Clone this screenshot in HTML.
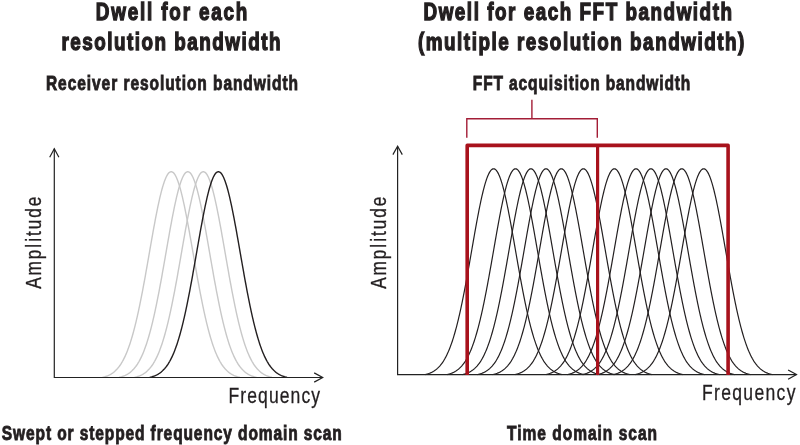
<!DOCTYPE html>
<html><head><meta charset="utf-8"><style>
html,body{margin:0;padding:0;background:#fff;width:800px;height:445px;overflow:hidden}
svg{display:block;will-change:transform}
text{font-family:"Liberation Sans",sans-serif}
</style></head><body>
<svg width="800" height="445" viewBox="0 0 800 445">
<rect width="800" height="445" fill="#fff"/>
<path d="M102.60,377.30 L103.10,377.19 L103.60,377.07 L104.10,376.94 L104.59,376.80 L105.09,376.66 L105.59,376.50 L106.09,376.34 L106.59,376.16 L107.09,375.98 L107.59,375.78 L108.09,375.58 L108.59,375.36 L109.08,375.12 L109.58,374.88 L110.08,374.62 L110.58,374.34 L111.08,374.05 L111.58,373.74 L112.08,373.42 L112.58,373.07 L113.08,372.71 L113.57,372.33 L114.07,371.94 L114.57,371.51 L115.07,371.07 L115.57,370.61 L116.07,370.12 L116.57,369.61 L117.07,369.07 L117.57,368.51 L118.06,367.92 L118.56,367.30 L119.06,366.66 L119.56,365.98 L120.06,365.28 L120.56,364.54 L121.06,363.77 L121.56,362.97 L122.06,362.13 L122.56,361.26 L123.05,360.35 L123.55,359.41 L124.05,358.43 L124.55,357.40 L125.05,356.35 L125.55,355.25 L126.05,354.10 L126.55,352.92 L127.05,351.70 L127.54,350.43 L128.04,349.12 L128.54,347.76 L129.04,346.36 L129.54,344.91 L130.04,343.42 L130.54,341.88 L131.04,340.29 L131.54,338.66 L132.03,336.98 L132.53,335.25 L133.03,333.47 L133.53,331.65 L134.03,329.77 L134.53,327.85 L135.03,325.88 L135.53,323.87 L136.03,321.80 L136.52,319.69 L137.02,317.54 L137.52,315.34 L138.02,313.09 L138.52,310.80 L139.02,308.46 L139.52,306.09 L140.02,303.67 L140.52,301.21 L141.02,298.71 L141.51,296.18 L142.01,293.61 L142.51,291.01 L143.01,288.37 L143.51,285.70 L144.01,283.00 L144.51,280.28 L145.01,277.53 L145.51,274.76 L146.00,271.97 L146.50,269.16 L147.00,266.33 L147.50,263.50 L148.00,260.65 L148.50,257.79 L149.00,254.93 L149.50,252.07 L150.00,249.21 L150.49,246.35 L150.99,243.50 L151.49,240.67 L151.99,237.84 L152.49,235.03 L152.99,232.24 L153.49,229.48 L153.99,226.74 L154.49,224.03 L154.99,221.36 L155.48,218.72 L155.98,216.13 L156.48,213.57 L156.98,211.07 L157.48,208.61 L157.98,206.21 L158.48,203.86 L158.98,201.58 L159.48,199.36 L159.97,197.20 L160.47,195.11 L160.97,193.10 L161.47,191.16 L161.97,189.30 L162.47,187.52 L162.97,185.83 L163.47,184.22 L163.97,182.70 L164.46,181.27 L164.96,179.93 L165.46,178.69 L165.96,177.54 L166.46,176.49 L166.96,175.55 L167.46,174.70 L167.96,173.96 L168.46,173.32 L168.95,172.79 L169.45,172.36 L169.95,172.04 L170.45,171.82 L170.95,171.71 L171.45,171.71 L171.95,171.82 L172.45,172.04 L172.95,172.36 L173.45,172.79 L173.94,173.32 L174.44,173.96 L174.94,174.70 L175.44,175.55 L175.94,176.49 L176.44,177.54 L176.94,178.69 L177.44,179.93 L177.94,181.27 L178.43,182.70 L178.93,184.22 L179.43,185.83 L179.93,187.52 L180.43,189.30 L180.93,191.16 L181.43,193.10 L181.93,195.11 L182.43,197.20 L182.92,199.36 L183.42,201.58 L183.92,203.86 L184.42,206.21 L184.92,208.61 L185.42,211.07 L185.92,213.57 L186.42,216.13 L186.92,218.72 L187.41,221.36 L187.91,224.03 L188.41,226.74 L188.91,229.48 L189.41,232.24 L189.91,235.03 L190.41,237.84 L190.91,240.67 L191.41,243.50 L191.91,246.35 L192.40,249.21 L192.90,252.07 L193.40,254.93 L193.90,257.79 L194.40,260.65 L194.90,263.50 L195.40,266.33 L195.90,269.16 L196.40,271.97 L196.89,274.76 L197.39,277.53 L197.89,280.28 L198.39,283.00 L198.89,285.70 L199.39,288.37 L199.89,291.01 L200.39,293.61 L200.89,296.18 L201.38,298.71 L201.88,301.21 L202.38,303.67 L202.88,306.09 L203.38,308.46 L203.88,310.80 L204.38,313.09 L204.88,315.34 L205.38,317.54 L205.88,319.69 L206.37,321.80 L206.87,323.87 L207.37,325.88 L207.87,327.85 L208.37,329.77 L208.87,331.65 L209.37,333.47 L209.87,335.25 L210.37,336.98 L210.86,338.66 L211.36,340.29 L211.86,341.88 L212.36,343.42 L212.86,344.91 L213.36,346.36 L213.86,347.76 L214.36,349.12 L214.86,350.43 L215.35,351.70 L215.85,352.92 L216.35,354.10 L216.85,355.25 L217.35,356.35 L217.85,357.40 L218.35,358.43 L218.85,359.41 L219.35,360.35 L219.84,361.26 L220.34,362.13 L220.84,362.97 L221.34,363.77 L221.84,364.54 L222.34,365.28 L222.84,365.98 L223.34,366.66 L223.84,367.30 L224.34,367.92 L224.83,368.51 L225.33,369.07 L225.83,369.61 L226.33,370.12 L226.83,370.61 L227.33,371.07 L227.83,371.51 L228.33,371.94 L228.83,372.33 L229.32,372.71 L229.82,373.07 L230.32,373.42 L230.82,373.74 L231.32,374.05 L231.82,374.34 L232.32,374.62 L232.82,374.88 L233.32,375.12 L233.81,375.36 L234.31,375.58 L234.81,375.78 L235.31,375.98 L235.81,376.16 L236.31,376.34 L236.81,376.50 L237.31,376.66 L237.81,376.80 L238.30,376.94 L238.80,377.07 L239.30,377.19 L239.80,377.30" fill="none" stroke="#c8c8c8" stroke-width="1.4"/>
<path d="M119.20,377.30 L119.70,377.19 L120.20,377.07 L120.70,376.94 L121.19,376.80 L121.69,376.66 L122.19,376.50 L122.69,376.34 L123.19,376.16 L123.69,375.98 L124.19,375.78 L124.69,375.58 L125.19,375.36 L125.68,375.12 L126.18,374.88 L126.68,374.62 L127.18,374.34 L127.68,374.05 L128.18,373.74 L128.68,373.42 L129.18,373.07 L129.68,372.71 L130.17,372.33 L130.67,371.94 L131.17,371.51 L131.67,371.07 L132.17,370.61 L132.67,370.12 L133.17,369.61 L133.67,369.07 L134.17,368.51 L134.66,367.92 L135.16,367.30 L135.66,366.66 L136.16,365.98 L136.66,365.28 L137.16,364.54 L137.66,363.77 L138.16,362.97 L138.66,362.13 L139.16,361.26 L139.65,360.35 L140.15,359.41 L140.65,358.43 L141.15,357.40 L141.65,356.35 L142.15,355.25 L142.65,354.10 L143.15,352.92 L143.65,351.70 L144.14,350.43 L144.64,349.12 L145.14,347.76 L145.64,346.36 L146.14,344.91 L146.64,343.42 L147.14,341.88 L147.64,340.29 L148.14,338.66 L148.63,336.98 L149.13,335.25 L149.63,333.47 L150.13,331.65 L150.63,329.77 L151.13,327.85 L151.63,325.88 L152.13,323.87 L152.63,321.80 L153.12,319.69 L153.62,317.54 L154.12,315.34 L154.62,313.09 L155.12,310.80 L155.62,308.46 L156.12,306.09 L156.62,303.67 L157.12,301.21 L157.62,298.71 L158.11,296.18 L158.61,293.61 L159.11,291.01 L159.61,288.37 L160.11,285.70 L160.61,283.00 L161.11,280.28 L161.61,277.53 L162.11,274.76 L162.60,271.97 L163.10,269.16 L163.60,266.33 L164.10,263.50 L164.60,260.65 L165.10,257.79 L165.60,254.93 L166.10,252.07 L166.60,249.21 L167.09,246.35 L167.59,243.50 L168.09,240.67 L168.59,237.84 L169.09,235.03 L169.59,232.24 L170.09,229.48 L170.59,226.74 L171.09,224.03 L171.59,221.36 L172.08,218.72 L172.58,216.13 L173.08,213.57 L173.58,211.07 L174.08,208.61 L174.58,206.21 L175.08,203.86 L175.58,201.58 L176.08,199.36 L176.57,197.20 L177.07,195.11 L177.57,193.10 L178.07,191.16 L178.57,189.30 L179.07,187.52 L179.57,185.83 L180.07,184.22 L180.57,182.70 L181.06,181.27 L181.56,179.93 L182.06,178.69 L182.56,177.54 L183.06,176.49 L183.56,175.55 L184.06,174.70 L184.56,173.96 L185.06,173.32 L185.55,172.79 L186.05,172.36 L186.55,172.04 L187.05,171.82 L187.55,171.71 L188.05,171.71 L188.55,171.82 L189.05,172.04 L189.55,172.36 L190.05,172.79 L190.54,173.32 L191.04,173.96 L191.54,174.70 L192.04,175.55 L192.54,176.49 L193.04,177.54 L193.54,178.69 L194.04,179.93 L194.54,181.27 L195.03,182.70 L195.53,184.22 L196.03,185.83 L196.53,187.52 L197.03,189.30 L197.53,191.16 L198.03,193.10 L198.53,195.11 L199.03,197.20 L199.52,199.36 L200.02,201.58 L200.52,203.86 L201.02,206.21 L201.52,208.61 L202.02,211.07 L202.52,213.57 L203.02,216.13 L203.52,218.72 L204.01,221.36 L204.51,224.03 L205.01,226.74 L205.51,229.48 L206.01,232.24 L206.51,235.03 L207.01,237.84 L207.51,240.67 L208.01,243.50 L208.51,246.35 L209.00,249.21 L209.50,252.07 L210.00,254.93 L210.50,257.79 L211.00,260.65 L211.50,263.50 L212.00,266.33 L212.50,269.16 L213.00,271.97 L213.49,274.76 L213.99,277.53 L214.49,280.28 L214.99,283.00 L215.49,285.70 L215.99,288.37 L216.49,291.01 L216.99,293.61 L217.49,296.18 L217.98,298.71 L218.48,301.21 L218.98,303.67 L219.48,306.09 L219.98,308.46 L220.48,310.80 L220.98,313.09 L221.48,315.34 L221.98,317.54 L222.48,319.69 L222.97,321.80 L223.47,323.87 L223.97,325.88 L224.47,327.85 L224.97,329.77 L225.47,331.65 L225.97,333.47 L226.47,335.25 L226.97,336.98 L227.46,338.66 L227.96,340.29 L228.46,341.88 L228.96,343.42 L229.46,344.91 L229.96,346.36 L230.46,347.76 L230.96,349.12 L231.46,350.43 L231.95,351.70 L232.45,352.92 L232.95,354.10 L233.45,355.25 L233.95,356.35 L234.45,357.40 L234.95,358.43 L235.45,359.41 L235.95,360.35 L236.44,361.26 L236.94,362.13 L237.44,362.97 L237.94,363.77 L238.44,364.54 L238.94,365.28 L239.44,365.98 L239.94,366.66 L240.44,367.30 L240.94,367.92 L241.43,368.51 L241.93,369.07 L242.43,369.61 L242.93,370.12 L243.43,370.61 L243.93,371.07 L244.43,371.51 L244.93,371.94 L245.43,372.33 L245.92,372.71 L246.42,373.07 L246.92,373.42 L247.42,373.74 L247.92,374.05 L248.42,374.34 L248.92,374.62 L249.42,374.88 L249.92,375.12 L250.41,375.36 L250.91,375.58 L251.41,375.78 L251.91,375.98 L252.41,376.16 L252.91,376.34 L253.41,376.50 L253.91,376.66 L254.41,376.80 L254.90,376.94 L255.40,377.07 L255.90,377.19 L256.40,377.30" fill="none" stroke="#c8c8c8" stroke-width="1.4"/>
<path d="M134.70,377.30 L135.20,377.19 L135.70,377.07 L136.20,376.94 L136.69,376.80 L137.19,376.66 L137.69,376.50 L138.19,376.34 L138.69,376.16 L139.19,375.98 L139.69,375.78 L140.19,375.58 L140.69,375.36 L141.18,375.12 L141.68,374.88 L142.18,374.62 L142.68,374.34 L143.18,374.05 L143.68,373.74 L144.18,373.42 L144.68,373.07 L145.18,372.71 L145.67,372.33 L146.17,371.94 L146.67,371.51 L147.17,371.07 L147.67,370.61 L148.17,370.12 L148.67,369.61 L149.17,369.07 L149.67,368.51 L150.16,367.92 L150.66,367.30 L151.16,366.66 L151.66,365.98 L152.16,365.28 L152.66,364.54 L153.16,363.77 L153.66,362.97 L154.16,362.13 L154.66,361.26 L155.15,360.35 L155.65,359.41 L156.15,358.43 L156.65,357.40 L157.15,356.35 L157.65,355.25 L158.15,354.10 L158.65,352.92 L159.15,351.70 L159.64,350.43 L160.14,349.12 L160.64,347.76 L161.14,346.36 L161.64,344.91 L162.14,343.42 L162.64,341.88 L163.14,340.29 L163.64,338.66 L164.13,336.98 L164.63,335.25 L165.13,333.47 L165.63,331.65 L166.13,329.77 L166.63,327.85 L167.13,325.88 L167.63,323.87 L168.13,321.80 L168.62,319.69 L169.12,317.54 L169.62,315.34 L170.12,313.09 L170.62,310.80 L171.12,308.46 L171.62,306.09 L172.12,303.67 L172.62,301.21 L173.12,298.71 L173.61,296.18 L174.11,293.61 L174.61,291.01 L175.11,288.37 L175.61,285.70 L176.11,283.00 L176.61,280.28 L177.11,277.53 L177.61,274.76 L178.10,271.97 L178.60,269.16 L179.10,266.33 L179.60,263.50 L180.10,260.65 L180.60,257.79 L181.10,254.93 L181.60,252.07 L182.10,249.21 L182.59,246.35 L183.09,243.50 L183.59,240.67 L184.09,237.84 L184.59,235.03 L185.09,232.24 L185.59,229.48 L186.09,226.74 L186.59,224.03 L187.09,221.36 L187.58,218.72 L188.08,216.13 L188.58,213.57 L189.08,211.07 L189.58,208.61 L190.08,206.21 L190.58,203.86 L191.08,201.58 L191.58,199.36 L192.07,197.20 L192.57,195.11 L193.07,193.10 L193.57,191.16 L194.07,189.30 L194.57,187.52 L195.07,185.83 L195.57,184.22 L196.07,182.70 L196.56,181.27 L197.06,179.93 L197.56,178.69 L198.06,177.54 L198.56,176.49 L199.06,175.55 L199.56,174.70 L200.06,173.96 L200.56,173.32 L201.05,172.79 L201.55,172.36 L202.05,172.04 L202.55,171.82 L203.05,171.71 L203.55,171.71 L204.05,171.82 L204.55,172.04 L205.05,172.36 L205.55,172.79 L206.04,173.32 L206.54,173.96 L207.04,174.70 L207.54,175.55 L208.04,176.49 L208.54,177.54 L209.04,178.69 L209.54,179.93 L210.04,181.27 L210.53,182.70 L211.03,184.22 L211.53,185.83 L212.03,187.52 L212.53,189.30 L213.03,191.16 L213.53,193.10 L214.03,195.11 L214.53,197.20 L215.02,199.36 L215.52,201.58 L216.02,203.86 L216.52,206.21 L217.02,208.61 L217.52,211.07 L218.02,213.57 L218.52,216.13 L219.02,218.72 L219.51,221.36 L220.01,224.03 L220.51,226.74 L221.01,229.48 L221.51,232.24 L222.01,235.03 L222.51,237.84 L223.01,240.67 L223.51,243.50 L224.01,246.35 L224.50,249.21 L225.00,252.07 L225.50,254.93 L226.00,257.79 L226.50,260.65 L227.00,263.50 L227.50,266.33 L228.00,269.16 L228.50,271.97 L228.99,274.76 L229.49,277.53 L229.99,280.28 L230.49,283.00 L230.99,285.70 L231.49,288.37 L231.99,291.01 L232.49,293.61 L232.99,296.18 L233.48,298.71 L233.98,301.21 L234.48,303.67 L234.98,306.09 L235.48,308.46 L235.98,310.80 L236.48,313.09 L236.98,315.34 L237.48,317.54 L237.98,319.69 L238.47,321.80 L238.97,323.87 L239.47,325.88 L239.97,327.85 L240.47,329.77 L240.97,331.65 L241.47,333.47 L241.97,335.25 L242.47,336.98 L242.96,338.66 L243.46,340.29 L243.96,341.88 L244.46,343.42 L244.96,344.91 L245.46,346.36 L245.96,347.76 L246.46,349.12 L246.96,350.43 L247.45,351.70 L247.95,352.92 L248.45,354.10 L248.95,355.25 L249.45,356.35 L249.95,357.40 L250.45,358.43 L250.95,359.41 L251.45,360.35 L251.94,361.26 L252.44,362.13 L252.94,362.97 L253.44,363.77 L253.94,364.54 L254.44,365.28 L254.94,365.98 L255.44,366.66 L255.94,367.30 L256.44,367.92 L256.93,368.51 L257.43,369.07 L257.93,369.61 L258.43,370.12 L258.93,370.61 L259.43,371.07 L259.93,371.51 L260.43,371.94 L260.93,372.33 L261.42,372.71 L261.92,373.07 L262.42,373.42 L262.92,373.74 L263.42,374.05 L263.92,374.34 L264.42,374.62 L264.92,374.88 L265.42,375.12 L265.91,375.36 L266.41,375.58 L266.91,375.78 L267.41,375.98 L267.91,376.16 L268.41,376.34 L268.91,376.50 L269.41,376.66 L269.91,376.80 L270.40,376.94 L270.90,377.07 L271.40,377.19 L271.90,377.30" fill="none" stroke="#c8c8c8" stroke-width="1.4"/>
<path d="M149.80,377.30 L150.30,377.19 L150.80,377.07 L151.30,376.94 L151.79,376.80 L152.29,376.66 L152.79,376.50 L153.29,376.34 L153.79,376.16 L154.29,375.98 L154.79,375.78 L155.29,375.58 L155.79,375.36 L156.28,375.12 L156.78,374.88 L157.28,374.62 L157.78,374.34 L158.28,374.05 L158.78,373.74 L159.28,373.42 L159.78,373.07 L160.28,372.71 L160.77,372.33 L161.27,371.94 L161.77,371.51 L162.27,371.07 L162.77,370.61 L163.27,370.12 L163.77,369.61 L164.27,369.07 L164.77,368.51 L165.26,367.92 L165.76,367.30 L166.26,366.66 L166.76,365.98 L167.26,365.28 L167.76,364.54 L168.26,363.77 L168.76,362.97 L169.26,362.13 L169.76,361.26 L170.25,360.35 L170.75,359.41 L171.25,358.43 L171.75,357.40 L172.25,356.35 L172.75,355.25 L173.25,354.10 L173.75,352.92 L174.25,351.70 L174.74,350.43 L175.24,349.12 L175.74,347.76 L176.24,346.36 L176.74,344.91 L177.24,343.42 L177.74,341.88 L178.24,340.29 L178.74,338.66 L179.23,336.98 L179.73,335.25 L180.23,333.47 L180.73,331.65 L181.23,329.77 L181.73,327.85 L182.23,325.88 L182.73,323.87 L183.23,321.80 L183.72,319.69 L184.22,317.54 L184.72,315.34 L185.22,313.09 L185.72,310.80 L186.22,308.46 L186.72,306.09 L187.22,303.67 L187.72,301.21 L188.22,298.71 L188.71,296.18 L189.21,293.61 L189.71,291.01 L190.21,288.37 L190.71,285.70 L191.21,283.00 L191.71,280.28 L192.21,277.53 L192.71,274.76 L193.20,271.97 L193.70,269.16 L194.20,266.33 L194.70,263.50 L195.20,260.65 L195.70,257.79 L196.20,254.93 L196.70,252.07 L197.20,249.21 L197.69,246.35 L198.19,243.50 L198.69,240.67 L199.19,237.84 L199.69,235.03 L200.19,232.24 L200.69,229.48 L201.19,226.74 L201.69,224.03 L202.19,221.36 L202.68,218.72 L203.18,216.13 L203.68,213.57 L204.18,211.07 L204.68,208.61 L205.18,206.21 L205.68,203.86 L206.18,201.58 L206.68,199.36 L207.17,197.20 L207.67,195.11 L208.17,193.10 L208.67,191.16 L209.17,189.30 L209.67,187.52 L210.17,185.83 L210.67,184.22 L211.17,182.70 L211.66,181.27 L212.16,179.93 L212.66,178.69 L213.16,177.54 L213.66,176.49 L214.16,175.55 L214.66,174.70 L215.16,173.96 L215.66,173.32 L216.15,172.79 L216.65,172.36 L217.15,172.04 L217.65,171.82 L218.15,171.71 L218.65,171.71 L219.15,171.82 L219.65,172.04 L220.15,172.36 L220.65,172.79 L221.14,173.32 L221.64,173.96 L222.14,174.70 L222.64,175.55 L223.14,176.49 L223.64,177.54 L224.14,178.69 L224.64,179.93 L225.14,181.27 L225.63,182.70 L226.13,184.22 L226.63,185.83 L227.13,187.52 L227.63,189.30 L228.13,191.16 L228.63,193.10 L229.13,195.11 L229.63,197.20 L230.12,199.36 L230.62,201.58 L231.12,203.86 L231.62,206.21 L232.12,208.61 L232.62,211.07 L233.12,213.57 L233.62,216.13 L234.12,218.72 L234.61,221.36 L235.11,224.03 L235.61,226.74 L236.11,229.48 L236.61,232.24 L237.11,235.03 L237.61,237.84 L238.11,240.67 L238.61,243.50 L239.11,246.35 L239.60,249.21 L240.10,252.07 L240.60,254.93 L241.10,257.79 L241.60,260.65 L242.10,263.50 L242.60,266.33 L243.10,269.16 L243.60,271.97 L244.09,274.76 L244.59,277.53 L245.09,280.28 L245.59,283.00 L246.09,285.70 L246.59,288.37 L247.09,291.01 L247.59,293.61 L248.09,296.18 L248.58,298.71 L249.08,301.21 L249.58,303.67 L250.08,306.09 L250.58,308.46 L251.08,310.80 L251.58,313.09 L252.08,315.34 L252.58,317.54 L253.08,319.69 L253.57,321.80 L254.07,323.87 L254.57,325.88 L255.07,327.85 L255.57,329.77 L256.07,331.65 L256.57,333.47 L257.07,335.25 L257.57,336.98 L258.06,338.66 L258.56,340.29 L259.06,341.88 L259.56,343.42 L260.06,344.91 L260.56,346.36 L261.06,347.76 L261.56,349.12 L262.06,350.43 L262.55,351.70 L263.05,352.92 L263.55,354.10 L264.05,355.25 L264.55,356.35 L265.05,357.40 L265.55,358.43 L266.05,359.41 L266.55,360.35 L267.04,361.26 L267.54,362.13 L268.04,362.97 L268.54,363.77 L269.04,364.54 L269.54,365.28 L270.04,365.98 L270.54,366.66 L271.04,367.30 L271.54,367.92 L272.03,368.51 L272.53,369.07 L273.03,369.61 L273.53,370.12 L274.03,370.61 L274.53,371.07 L275.03,371.51 L275.53,371.94 L276.03,372.33 L276.52,372.71 L277.02,373.07 L277.52,373.42 L278.02,373.74 L278.52,374.05 L279.02,374.34 L279.52,374.62 L280.02,374.88 L280.52,375.12 L281.01,375.36 L281.51,375.58 L282.01,375.78 L282.51,375.98 L283.01,376.16 L283.51,376.34 L284.01,376.50 L284.51,376.66 L285.01,376.80 L285.50,376.94 L286.00,377.07 L286.50,377.19 L287.00,377.30" fill="none" stroke="#231f20" stroke-width="1.4"/>
<path d="M425.00,374.60 L425.50,374.49 L426.00,374.37 L426.50,374.24 L426.99,374.10 L427.49,373.96 L427.99,373.80 L428.49,373.64 L428.99,373.46 L429.49,373.28 L429.99,373.08 L430.49,372.87 L430.99,372.65 L431.48,372.42 L431.98,372.17 L432.48,371.91 L432.98,371.64 L433.48,371.35 L433.98,371.04 L434.48,370.71 L434.98,370.37 L435.48,370.01 L435.97,369.63 L436.47,369.23 L436.97,368.81 L437.47,368.37 L437.97,367.90 L438.47,367.41 L438.97,366.90 L439.47,366.36 L439.97,365.80 L440.46,365.21 L440.96,364.59 L441.46,363.95 L441.96,363.27 L442.46,362.56 L442.96,361.83 L443.46,361.06 L443.96,360.25 L444.46,359.42 L444.96,358.54 L445.45,357.63 L445.95,356.69 L446.45,355.71 L446.95,354.69 L447.45,353.62 L447.95,352.52 L448.45,351.38 L448.95,350.20 L449.45,348.97 L449.94,347.70 L450.44,346.39 L450.94,345.03 L451.44,343.63 L451.94,342.18 L452.44,340.69 L452.94,339.14 L453.44,337.56 L453.94,335.92 L454.43,334.24 L454.93,332.51 L455.43,330.73 L455.93,328.90 L456.43,327.03 L456.93,325.10 L457.43,323.13 L457.93,321.12 L458.43,319.05 L458.92,316.94 L459.42,314.78 L459.92,312.58 L460.42,310.33 L460.92,308.03 L461.42,305.70 L461.92,303.32 L462.42,300.90 L462.92,298.44 L463.42,295.94 L463.91,293.40 L464.41,290.83 L464.91,288.22 L465.41,285.58 L465.91,282.91 L466.41,280.21 L466.91,277.49 L467.41,274.73 L467.91,271.96 L468.40,269.17 L468.90,266.35 L469.40,263.53 L469.90,260.69 L470.40,257.84 L470.90,254.98 L471.40,252.11 L471.90,249.25 L472.40,246.39 L472.89,243.53 L473.39,240.67 L473.89,237.83 L474.39,235.00 L474.89,232.19 L475.39,229.40 L475.89,226.64 L476.39,223.89 L476.89,221.18 L477.39,218.51 L477.88,215.87 L478.38,213.27 L478.88,210.71 L479.38,208.20 L479.88,205.75 L480.38,203.34 L480.88,200.99 L481.38,198.71 L481.88,196.48 L482.37,194.33 L482.87,192.24 L483.37,190.22 L483.87,188.28 L484.37,186.42 L484.87,184.64 L485.37,182.94 L485.87,181.33 L486.37,179.81 L486.86,178.38 L487.36,177.04 L487.86,175.79 L488.36,174.65 L488.86,173.60 L489.36,172.65 L489.86,171.80 L490.36,171.06 L490.86,170.42 L491.35,169.89 L491.85,169.46 L492.35,169.14 L492.85,168.92 L493.35,168.81 L493.85,168.81 L494.35,168.92 L494.85,169.14 L495.35,169.46 L495.85,169.89 L496.34,170.42 L496.84,171.06 L497.34,171.80 L497.84,172.65 L498.34,173.60 L498.84,174.65 L499.34,175.79 L499.84,177.04 L500.34,178.38 L500.83,179.81 L501.33,181.33 L501.83,182.94 L502.33,184.64 L502.83,186.42 L503.33,188.28 L503.83,190.22 L504.33,192.24 L504.83,194.33 L505.32,196.48 L505.82,198.71 L506.32,200.99 L506.82,203.34 L507.32,205.75 L507.82,208.20 L508.32,210.71 L508.82,213.27 L509.32,215.87 L509.81,218.51 L510.31,221.18 L510.81,223.89 L511.31,226.64 L511.81,229.40 L512.31,232.19 L512.81,235.00 L513.31,237.83 L513.81,240.67 L514.31,243.53 L514.80,246.39 L515.30,249.25 L515.80,252.11 L516.30,254.98 L516.80,257.84 L517.30,260.69 L517.80,263.53 L518.30,266.35 L518.80,269.17 L519.29,271.96 L519.79,274.73 L520.29,277.49 L520.79,280.21 L521.29,282.91 L521.79,285.58 L522.29,288.22 L522.79,290.83 L523.29,293.40 L523.78,295.94 L524.28,298.44 L524.78,300.90 L525.28,303.32 L525.78,305.70 L526.28,308.03 L526.78,310.33 L527.28,312.58 L527.78,314.78 L528.28,316.94 L528.77,319.05 L529.27,321.12 L529.77,323.13 L530.27,325.10 L530.77,327.03 L531.27,328.90 L531.77,330.73 L532.27,332.51 L532.77,334.24 L533.26,335.92 L533.76,337.56 L534.26,339.14 L534.76,340.69 L535.26,342.18 L535.76,343.63 L536.26,345.03 L536.76,346.39 L537.26,347.70 L537.75,348.97 L538.25,350.20 L538.75,351.38 L539.25,352.52 L539.75,353.62 L540.25,354.69 L540.75,355.71 L541.25,356.69 L541.75,357.63 L542.24,358.54 L542.74,359.42 L543.24,360.25 L543.74,361.06 L544.24,361.83 L544.74,362.56 L545.24,363.27 L545.74,363.95 L546.24,364.59 L546.74,365.21 L547.23,365.80 L547.73,366.36 L548.23,366.90 L548.73,367.41 L549.23,367.90 L549.73,368.37 L550.23,368.81 L550.73,369.23 L551.23,369.63 L551.72,370.01 L552.22,370.37 L552.72,370.71 L553.22,371.04 L553.72,371.35 L554.22,371.64 L554.72,371.91 L555.22,372.17 L555.72,372.42 L556.21,372.65 L556.71,372.87 L557.21,373.08 L557.71,373.28 L558.21,373.46 L558.71,373.64 L559.21,373.80 L559.71,373.96 L560.21,374.10 L560.70,374.24 L561.20,374.37 L561.70,374.49 L562.20,374.60" fill="none" stroke="#231f20" stroke-width="1.2"/>
<path d="M446.90,374.60 L447.40,374.49 L447.90,374.37 L448.40,374.24 L448.89,374.10 L449.39,373.96 L449.89,373.80 L450.39,373.64 L450.89,373.46 L451.39,373.28 L451.89,373.08 L452.39,372.87 L452.89,372.65 L453.38,372.42 L453.88,372.17 L454.38,371.91 L454.88,371.64 L455.38,371.35 L455.88,371.04 L456.38,370.71 L456.88,370.37 L457.38,370.01 L457.87,369.63 L458.37,369.23 L458.87,368.81 L459.37,368.37 L459.87,367.90 L460.37,367.41 L460.87,366.90 L461.37,366.36 L461.87,365.80 L462.36,365.21 L462.86,364.59 L463.36,363.95 L463.86,363.27 L464.36,362.56 L464.86,361.83 L465.36,361.06 L465.86,360.25 L466.36,359.42 L466.86,358.54 L467.35,357.63 L467.85,356.69 L468.35,355.71 L468.85,354.69 L469.35,353.62 L469.85,352.52 L470.35,351.38 L470.85,350.20 L471.35,348.97 L471.84,347.70 L472.34,346.39 L472.84,345.03 L473.34,343.63 L473.84,342.18 L474.34,340.69 L474.84,339.14 L475.34,337.56 L475.84,335.92 L476.33,334.24 L476.83,332.51 L477.33,330.73 L477.83,328.90 L478.33,327.03 L478.83,325.10 L479.33,323.13 L479.83,321.12 L480.33,319.05 L480.82,316.94 L481.32,314.78 L481.82,312.58 L482.32,310.33 L482.82,308.03 L483.32,305.70 L483.82,303.32 L484.32,300.90 L484.82,298.44 L485.32,295.94 L485.81,293.40 L486.31,290.83 L486.81,288.22 L487.31,285.58 L487.81,282.91 L488.31,280.21 L488.81,277.49 L489.31,274.73 L489.81,271.96 L490.30,269.17 L490.80,266.35 L491.30,263.53 L491.80,260.69 L492.30,257.84 L492.80,254.98 L493.30,252.11 L493.80,249.25 L494.30,246.39 L494.79,243.53 L495.29,240.67 L495.79,237.83 L496.29,235.00 L496.79,232.19 L497.29,229.40 L497.79,226.64 L498.29,223.89 L498.79,221.18 L499.29,218.51 L499.78,215.87 L500.28,213.27 L500.78,210.71 L501.28,208.20 L501.78,205.75 L502.28,203.34 L502.78,200.99 L503.28,198.71 L503.78,196.48 L504.27,194.33 L504.77,192.24 L505.27,190.22 L505.77,188.28 L506.27,186.42 L506.77,184.64 L507.27,182.94 L507.77,181.33 L508.27,179.81 L508.76,178.38 L509.26,177.04 L509.76,175.79 L510.26,174.65 L510.76,173.60 L511.26,172.65 L511.76,171.80 L512.26,171.06 L512.76,170.42 L513.25,169.89 L513.75,169.46 L514.25,169.14 L514.75,168.92 L515.25,168.81 L515.75,168.81 L516.25,168.92 L516.75,169.14 L517.25,169.46 L517.75,169.89 L518.24,170.42 L518.74,171.06 L519.24,171.80 L519.74,172.65 L520.24,173.60 L520.74,174.65 L521.24,175.79 L521.74,177.04 L522.24,178.38 L522.73,179.81 L523.23,181.33 L523.73,182.94 L524.23,184.64 L524.73,186.42 L525.23,188.28 L525.73,190.22 L526.23,192.24 L526.73,194.33 L527.22,196.48 L527.72,198.71 L528.22,200.99 L528.72,203.34 L529.22,205.75 L529.72,208.20 L530.22,210.71 L530.72,213.27 L531.22,215.87 L531.71,218.51 L532.21,221.18 L532.71,223.89 L533.21,226.64 L533.71,229.40 L534.21,232.19 L534.71,235.00 L535.21,237.83 L535.71,240.67 L536.21,243.53 L536.70,246.39 L537.20,249.25 L537.70,252.11 L538.20,254.98 L538.70,257.84 L539.20,260.69 L539.70,263.53 L540.20,266.35 L540.70,269.17 L541.19,271.96 L541.69,274.73 L542.19,277.49 L542.69,280.21 L543.19,282.91 L543.69,285.58 L544.19,288.22 L544.69,290.83 L545.19,293.40 L545.68,295.94 L546.18,298.44 L546.68,300.90 L547.18,303.32 L547.68,305.70 L548.18,308.03 L548.68,310.33 L549.18,312.58 L549.68,314.78 L550.18,316.94 L550.67,319.05 L551.17,321.12 L551.67,323.13 L552.17,325.10 L552.67,327.03 L553.17,328.90 L553.67,330.73 L554.17,332.51 L554.67,334.24 L555.16,335.92 L555.66,337.56 L556.16,339.14 L556.66,340.69 L557.16,342.18 L557.66,343.63 L558.16,345.03 L558.66,346.39 L559.16,347.70 L559.65,348.97 L560.15,350.20 L560.65,351.38 L561.15,352.52 L561.65,353.62 L562.15,354.69 L562.65,355.71 L563.15,356.69 L563.65,357.63 L564.14,358.54 L564.64,359.42 L565.14,360.25 L565.64,361.06 L566.14,361.83 L566.64,362.56 L567.14,363.27 L567.64,363.95 L568.14,364.59 L568.64,365.21 L569.13,365.80 L569.63,366.36 L570.13,366.90 L570.63,367.41 L571.13,367.90 L571.63,368.37 L572.13,368.81 L572.63,369.23 L573.13,369.63 L573.62,370.01 L574.12,370.37 L574.62,370.71 L575.12,371.04 L575.62,371.35 L576.12,371.64 L576.62,371.91 L577.12,372.17 L577.62,372.42 L578.11,372.65 L578.61,372.87 L579.11,373.08 L579.61,373.28 L580.11,373.46 L580.61,373.64 L581.11,373.80 L581.61,373.96 L582.11,374.10 L582.60,374.24 L583.10,374.37 L583.60,374.49 L584.10,374.60" fill="none" stroke="#231f20" stroke-width="1.2"/>
<path d="M462.30,374.60 L462.80,374.49 L463.30,374.37 L463.80,374.24 L464.29,374.10 L464.79,373.96 L465.29,373.80 L465.79,373.64 L466.29,373.46 L466.79,373.28 L467.29,373.08 L467.79,372.87 L468.29,372.65 L468.78,372.42 L469.28,372.17 L469.78,371.91 L470.28,371.64 L470.78,371.35 L471.28,371.04 L471.78,370.71 L472.28,370.37 L472.78,370.01 L473.27,369.63 L473.77,369.23 L474.27,368.81 L474.77,368.37 L475.27,367.90 L475.77,367.41 L476.27,366.90 L476.77,366.36 L477.27,365.80 L477.76,365.21 L478.26,364.59 L478.76,363.95 L479.26,363.27 L479.76,362.56 L480.26,361.83 L480.76,361.06 L481.26,360.25 L481.76,359.42 L482.26,358.54 L482.75,357.63 L483.25,356.69 L483.75,355.71 L484.25,354.69 L484.75,353.62 L485.25,352.52 L485.75,351.38 L486.25,350.20 L486.75,348.97 L487.24,347.70 L487.74,346.39 L488.24,345.03 L488.74,343.63 L489.24,342.18 L489.74,340.69 L490.24,339.14 L490.74,337.56 L491.24,335.92 L491.73,334.24 L492.23,332.51 L492.73,330.73 L493.23,328.90 L493.73,327.03 L494.23,325.10 L494.73,323.13 L495.23,321.12 L495.73,319.05 L496.22,316.94 L496.72,314.78 L497.22,312.58 L497.72,310.33 L498.22,308.03 L498.72,305.70 L499.22,303.32 L499.72,300.90 L500.22,298.44 L500.72,295.94 L501.21,293.40 L501.71,290.83 L502.21,288.22 L502.71,285.58 L503.21,282.91 L503.71,280.21 L504.21,277.49 L504.71,274.73 L505.21,271.96 L505.70,269.17 L506.20,266.35 L506.70,263.53 L507.20,260.69 L507.70,257.84 L508.20,254.98 L508.70,252.11 L509.20,249.25 L509.70,246.39 L510.19,243.53 L510.69,240.67 L511.19,237.83 L511.69,235.00 L512.19,232.19 L512.69,229.40 L513.19,226.64 L513.69,223.89 L514.19,221.18 L514.69,218.51 L515.18,215.87 L515.68,213.27 L516.18,210.71 L516.68,208.20 L517.18,205.75 L517.68,203.34 L518.18,200.99 L518.68,198.71 L519.18,196.48 L519.67,194.33 L520.17,192.24 L520.67,190.22 L521.17,188.28 L521.67,186.42 L522.17,184.64 L522.67,182.94 L523.17,181.33 L523.67,179.81 L524.16,178.38 L524.66,177.04 L525.16,175.79 L525.66,174.65 L526.16,173.60 L526.66,172.65 L527.16,171.80 L527.66,171.06 L528.16,170.42 L528.65,169.89 L529.15,169.46 L529.65,169.14 L530.15,168.92 L530.65,168.81 L531.15,168.81 L531.65,168.92 L532.15,169.14 L532.65,169.46 L533.15,169.89 L533.64,170.42 L534.14,171.06 L534.64,171.80 L535.14,172.65 L535.64,173.60 L536.14,174.65 L536.64,175.79 L537.14,177.04 L537.64,178.38 L538.13,179.81 L538.63,181.33 L539.13,182.94 L539.63,184.64 L540.13,186.42 L540.63,188.28 L541.13,190.22 L541.63,192.24 L542.13,194.33 L542.62,196.48 L543.12,198.71 L543.62,200.99 L544.12,203.34 L544.62,205.75 L545.12,208.20 L545.62,210.71 L546.12,213.27 L546.62,215.87 L547.11,218.51 L547.61,221.18 L548.11,223.89 L548.61,226.64 L549.11,229.40 L549.61,232.19 L550.11,235.00 L550.61,237.83 L551.11,240.67 L551.61,243.53 L552.10,246.39 L552.60,249.25 L553.10,252.11 L553.60,254.98 L554.10,257.84 L554.60,260.69 L555.10,263.53 L555.60,266.35 L556.10,269.17 L556.59,271.96 L557.09,274.73 L557.59,277.49 L558.09,280.21 L558.59,282.91 L559.09,285.58 L559.59,288.22 L560.09,290.83 L560.59,293.40 L561.08,295.94 L561.58,298.44 L562.08,300.90 L562.58,303.32 L563.08,305.70 L563.58,308.03 L564.08,310.33 L564.58,312.58 L565.08,314.78 L565.58,316.94 L566.07,319.05 L566.57,321.12 L567.07,323.13 L567.57,325.10 L568.07,327.03 L568.57,328.90 L569.07,330.73 L569.57,332.51 L570.07,334.24 L570.56,335.92 L571.06,337.56 L571.56,339.14 L572.06,340.69 L572.56,342.18 L573.06,343.63 L573.56,345.03 L574.06,346.39 L574.56,347.70 L575.05,348.97 L575.55,350.20 L576.05,351.38 L576.55,352.52 L577.05,353.62 L577.55,354.69 L578.05,355.71 L578.55,356.69 L579.05,357.63 L579.54,358.54 L580.04,359.42 L580.54,360.25 L581.04,361.06 L581.54,361.83 L582.04,362.56 L582.54,363.27 L583.04,363.95 L583.54,364.59 L584.04,365.21 L584.53,365.80 L585.03,366.36 L585.53,366.90 L586.03,367.41 L586.53,367.90 L587.03,368.37 L587.53,368.81 L588.03,369.23 L588.53,369.63 L589.02,370.01 L589.52,370.37 L590.02,370.71 L590.52,371.04 L591.02,371.35 L591.52,371.64 L592.02,371.91 L592.52,372.17 L593.02,372.42 L593.51,372.65 L594.01,372.87 L594.51,373.08 L595.01,373.28 L595.51,373.46 L596.01,373.64 L596.51,373.80 L597.01,373.96 L597.51,374.10 L598.00,374.24 L598.50,374.37 L599.00,374.49 L599.50,374.60" fill="none" stroke="#231f20" stroke-width="1.2"/>
<path d="M477.40,374.60 L477.90,374.49 L478.40,374.37 L478.90,374.24 L479.39,374.10 L479.89,373.96 L480.39,373.80 L480.89,373.64 L481.39,373.46 L481.89,373.28 L482.39,373.08 L482.89,372.87 L483.39,372.65 L483.88,372.42 L484.38,372.17 L484.88,371.91 L485.38,371.64 L485.88,371.35 L486.38,371.04 L486.88,370.71 L487.38,370.37 L487.88,370.01 L488.37,369.63 L488.87,369.23 L489.37,368.81 L489.87,368.37 L490.37,367.90 L490.87,367.41 L491.37,366.90 L491.87,366.36 L492.37,365.80 L492.86,365.21 L493.36,364.59 L493.86,363.95 L494.36,363.27 L494.86,362.56 L495.36,361.83 L495.86,361.06 L496.36,360.25 L496.86,359.42 L497.36,358.54 L497.85,357.63 L498.35,356.69 L498.85,355.71 L499.35,354.69 L499.85,353.62 L500.35,352.52 L500.85,351.38 L501.35,350.20 L501.85,348.97 L502.34,347.70 L502.84,346.39 L503.34,345.03 L503.84,343.63 L504.34,342.18 L504.84,340.69 L505.34,339.14 L505.84,337.56 L506.34,335.92 L506.83,334.24 L507.33,332.51 L507.83,330.73 L508.33,328.90 L508.83,327.03 L509.33,325.10 L509.83,323.13 L510.33,321.12 L510.83,319.05 L511.32,316.94 L511.82,314.78 L512.32,312.58 L512.82,310.33 L513.32,308.03 L513.82,305.70 L514.32,303.32 L514.82,300.90 L515.32,298.44 L515.82,295.94 L516.31,293.40 L516.81,290.83 L517.31,288.22 L517.81,285.58 L518.31,282.91 L518.81,280.21 L519.31,277.49 L519.81,274.73 L520.31,271.96 L520.80,269.17 L521.30,266.35 L521.80,263.53 L522.30,260.69 L522.80,257.84 L523.30,254.98 L523.80,252.11 L524.30,249.25 L524.80,246.39 L525.29,243.53 L525.79,240.67 L526.29,237.83 L526.79,235.00 L527.29,232.19 L527.79,229.40 L528.29,226.64 L528.79,223.89 L529.29,221.18 L529.79,218.51 L530.28,215.87 L530.78,213.27 L531.28,210.71 L531.78,208.20 L532.28,205.75 L532.78,203.34 L533.28,200.99 L533.78,198.71 L534.28,196.48 L534.77,194.33 L535.27,192.24 L535.77,190.22 L536.27,188.28 L536.77,186.42 L537.27,184.64 L537.77,182.94 L538.27,181.33 L538.77,179.81 L539.26,178.38 L539.76,177.04 L540.26,175.79 L540.76,174.65 L541.26,173.60 L541.76,172.65 L542.26,171.80 L542.76,171.06 L543.26,170.42 L543.75,169.89 L544.25,169.46 L544.75,169.14 L545.25,168.92 L545.75,168.81 L546.25,168.81 L546.75,168.92 L547.25,169.14 L547.75,169.46 L548.25,169.89 L548.74,170.42 L549.24,171.06 L549.74,171.80 L550.24,172.65 L550.74,173.60 L551.24,174.65 L551.74,175.79 L552.24,177.04 L552.74,178.38 L553.23,179.81 L553.73,181.33 L554.23,182.94 L554.73,184.64 L555.23,186.42 L555.73,188.28 L556.23,190.22 L556.73,192.24 L557.23,194.33 L557.72,196.48 L558.22,198.71 L558.72,200.99 L559.22,203.34 L559.72,205.75 L560.22,208.20 L560.72,210.71 L561.22,213.27 L561.72,215.87 L562.21,218.51 L562.71,221.18 L563.21,223.89 L563.71,226.64 L564.21,229.40 L564.71,232.19 L565.21,235.00 L565.71,237.83 L566.21,240.67 L566.71,243.53 L567.20,246.39 L567.70,249.25 L568.20,252.11 L568.70,254.98 L569.20,257.84 L569.70,260.69 L570.20,263.53 L570.70,266.35 L571.20,269.17 L571.69,271.96 L572.19,274.73 L572.69,277.49 L573.19,280.21 L573.69,282.91 L574.19,285.58 L574.69,288.22 L575.19,290.83 L575.69,293.40 L576.18,295.94 L576.68,298.44 L577.18,300.90 L577.68,303.32 L578.18,305.70 L578.68,308.03 L579.18,310.33 L579.68,312.58 L580.18,314.78 L580.68,316.94 L581.17,319.05 L581.67,321.12 L582.17,323.13 L582.67,325.10 L583.17,327.03 L583.67,328.90 L584.17,330.73 L584.67,332.51 L585.17,334.24 L585.66,335.92 L586.16,337.56 L586.66,339.14 L587.16,340.69 L587.66,342.18 L588.16,343.63 L588.66,345.03 L589.16,346.39 L589.66,347.70 L590.15,348.97 L590.65,350.20 L591.15,351.38 L591.65,352.52 L592.15,353.62 L592.65,354.69 L593.15,355.71 L593.65,356.69 L594.15,357.63 L594.64,358.54 L595.14,359.42 L595.64,360.25 L596.14,361.06 L596.64,361.83 L597.14,362.56 L597.64,363.27 L598.14,363.95 L598.64,364.59 L599.14,365.21 L599.63,365.80 L600.13,366.36 L600.63,366.90 L601.13,367.41 L601.63,367.90 L602.13,368.37 L602.63,368.81 L603.13,369.23 L603.63,369.63 L604.12,370.01 L604.62,370.37 L605.12,370.71 L605.62,371.04 L606.12,371.35 L606.62,371.64 L607.12,371.91 L607.62,372.17 L608.12,372.42 L608.61,372.65 L609.11,372.87 L609.61,373.08 L610.11,373.28 L610.61,373.46 L611.11,373.64 L611.61,373.80 L612.11,373.96 L612.61,374.10 L613.10,374.24 L613.60,374.37 L614.10,374.49 L614.60,374.60" fill="none" stroke="#231f20" stroke-width="1.2"/>
<path d="M492.70,374.60 L493.20,374.49 L493.70,374.37 L494.20,374.24 L494.69,374.10 L495.19,373.96 L495.69,373.80 L496.19,373.64 L496.69,373.46 L497.19,373.28 L497.69,373.08 L498.19,372.87 L498.69,372.65 L499.18,372.42 L499.68,372.17 L500.18,371.91 L500.68,371.64 L501.18,371.35 L501.68,371.04 L502.18,370.71 L502.68,370.37 L503.18,370.01 L503.67,369.63 L504.17,369.23 L504.67,368.81 L505.17,368.37 L505.67,367.90 L506.17,367.41 L506.67,366.90 L507.17,366.36 L507.67,365.80 L508.16,365.21 L508.66,364.59 L509.16,363.95 L509.66,363.27 L510.16,362.56 L510.66,361.83 L511.16,361.06 L511.66,360.25 L512.16,359.42 L512.66,358.54 L513.15,357.63 L513.65,356.69 L514.15,355.71 L514.65,354.69 L515.15,353.62 L515.65,352.52 L516.15,351.38 L516.65,350.20 L517.15,348.97 L517.64,347.70 L518.14,346.39 L518.64,345.03 L519.14,343.63 L519.64,342.18 L520.14,340.69 L520.64,339.14 L521.14,337.56 L521.64,335.92 L522.13,334.24 L522.63,332.51 L523.13,330.73 L523.63,328.90 L524.13,327.03 L524.63,325.10 L525.13,323.13 L525.63,321.12 L526.13,319.05 L526.62,316.94 L527.12,314.78 L527.62,312.58 L528.12,310.33 L528.62,308.03 L529.12,305.70 L529.62,303.32 L530.12,300.90 L530.62,298.44 L531.12,295.94 L531.61,293.40 L532.11,290.83 L532.61,288.22 L533.11,285.58 L533.61,282.91 L534.11,280.21 L534.61,277.49 L535.11,274.73 L535.61,271.96 L536.10,269.17 L536.60,266.35 L537.10,263.53 L537.60,260.69 L538.10,257.84 L538.60,254.98 L539.10,252.11 L539.60,249.25 L540.10,246.39 L540.59,243.53 L541.09,240.67 L541.59,237.83 L542.09,235.00 L542.59,232.19 L543.09,229.40 L543.59,226.64 L544.09,223.89 L544.59,221.18 L545.09,218.51 L545.58,215.87 L546.08,213.27 L546.58,210.71 L547.08,208.20 L547.58,205.75 L548.08,203.34 L548.58,200.99 L549.08,198.71 L549.58,196.48 L550.07,194.33 L550.57,192.24 L551.07,190.22 L551.57,188.28 L552.07,186.42 L552.57,184.64 L553.07,182.94 L553.57,181.33 L554.07,179.81 L554.56,178.38 L555.06,177.04 L555.56,175.79 L556.06,174.65 L556.56,173.60 L557.06,172.65 L557.56,171.80 L558.06,171.06 L558.56,170.42 L559.05,169.89 L559.55,169.46 L560.05,169.14 L560.55,168.92 L561.05,168.81 L561.55,168.81 L562.05,168.92 L562.55,169.14 L563.05,169.46 L563.55,169.89 L564.04,170.42 L564.54,171.06 L565.04,171.80 L565.54,172.65 L566.04,173.60 L566.54,174.65 L567.04,175.79 L567.54,177.04 L568.04,178.38 L568.53,179.81 L569.03,181.33 L569.53,182.94 L570.03,184.64 L570.53,186.42 L571.03,188.28 L571.53,190.22 L572.03,192.24 L572.53,194.33 L573.02,196.48 L573.52,198.71 L574.02,200.99 L574.52,203.34 L575.02,205.75 L575.52,208.20 L576.02,210.71 L576.52,213.27 L577.02,215.87 L577.51,218.51 L578.01,221.18 L578.51,223.89 L579.01,226.64 L579.51,229.40 L580.01,232.19 L580.51,235.00 L581.01,237.83 L581.51,240.67 L582.01,243.53 L582.50,246.39 L583.00,249.25 L583.50,252.11 L584.00,254.98 L584.50,257.84 L585.00,260.69 L585.50,263.53 L586.00,266.35 L586.50,269.17 L586.99,271.96 L587.49,274.73 L587.99,277.49 L588.49,280.21 L588.99,282.91 L589.49,285.58 L589.99,288.22 L590.49,290.83 L590.99,293.40 L591.48,295.94 L591.98,298.44 L592.48,300.90 L592.98,303.32 L593.48,305.70 L593.98,308.03 L594.48,310.33 L594.98,312.58 L595.48,314.78 L595.98,316.94 L596.47,319.05 L596.97,321.12 L597.47,323.13 L597.97,325.10 L598.47,327.03 L598.97,328.90 L599.47,330.73 L599.97,332.51 L600.47,334.24 L600.96,335.92 L601.46,337.56 L601.96,339.14 L602.46,340.69 L602.96,342.18 L603.46,343.63 L603.96,345.03 L604.46,346.39 L604.96,347.70 L605.45,348.97 L605.95,350.20 L606.45,351.38 L606.95,352.52 L607.45,353.62 L607.95,354.69 L608.45,355.71 L608.95,356.69 L609.45,357.63 L609.94,358.54 L610.44,359.42 L610.94,360.25 L611.44,361.06 L611.94,361.83 L612.44,362.56 L612.94,363.27 L613.44,363.95 L613.94,364.59 L614.44,365.21 L614.93,365.80 L615.43,366.36 L615.93,366.90 L616.43,367.41 L616.93,367.90 L617.43,368.37 L617.93,368.81 L618.43,369.23 L618.93,369.63 L619.42,370.01 L619.92,370.37 L620.42,370.71 L620.92,371.04 L621.42,371.35 L621.92,371.64 L622.42,371.91 L622.92,372.17 L623.42,372.42 L623.91,372.65 L624.41,372.87 L624.91,373.08 L625.41,373.28 L625.91,373.46 L626.41,373.64 L626.91,373.80 L627.41,373.96 L627.91,374.10 L628.40,374.24 L628.90,374.37 L629.40,374.49 L629.90,374.60" fill="none" stroke="#231f20" stroke-width="1.2"/>
<path d="M514.80,374.60 L515.30,374.49 L515.80,374.37 L516.30,374.24 L516.79,374.10 L517.29,373.96 L517.79,373.80 L518.29,373.64 L518.79,373.46 L519.29,373.28 L519.79,373.08 L520.29,372.87 L520.79,372.65 L521.28,372.42 L521.78,372.17 L522.28,371.91 L522.78,371.64 L523.28,371.35 L523.78,371.04 L524.28,370.71 L524.78,370.37 L525.28,370.01 L525.77,369.63 L526.27,369.23 L526.77,368.81 L527.27,368.37 L527.77,367.90 L528.27,367.41 L528.77,366.90 L529.27,366.36 L529.77,365.80 L530.26,365.21 L530.76,364.59 L531.26,363.95 L531.76,363.27 L532.26,362.56 L532.76,361.83 L533.26,361.06 L533.76,360.25 L534.26,359.42 L534.76,358.54 L535.25,357.63 L535.75,356.69 L536.25,355.71 L536.75,354.69 L537.25,353.62 L537.75,352.52 L538.25,351.38 L538.75,350.20 L539.25,348.97 L539.74,347.70 L540.24,346.39 L540.74,345.03 L541.24,343.63 L541.74,342.18 L542.24,340.69 L542.74,339.14 L543.24,337.56 L543.74,335.92 L544.23,334.24 L544.73,332.51 L545.23,330.73 L545.73,328.90 L546.23,327.03 L546.73,325.10 L547.23,323.13 L547.73,321.12 L548.23,319.05 L548.72,316.94 L549.22,314.78 L549.72,312.58 L550.22,310.33 L550.72,308.03 L551.22,305.70 L551.72,303.32 L552.22,300.90 L552.72,298.44 L553.22,295.94 L553.71,293.40 L554.21,290.83 L554.71,288.22 L555.21,285.58 L555.71,282.91 L556.21,280.21 L556.71,277.49 L557.21,274.73 L557.71,271.96 L558.20,269.17 L558.70,266.35 L559.20,263.53 L559.70,260.69 L560.20,257.84 L560.70,254.98 L561.20,252.11 L561.70,249.25 L562.20,246.39 L562.69,243.53 L563.19,240.67 L563.69,237.83 L564.19,235.00 L564.69,232.19 L565.19,229.40 L565.69,226.64 L566.19,223.89 L566.69,221.18 L567.19,218.51 L567.68,215.87 L568.18,213.27 L568.68,210.71 L569.18,208.20 L569.68,205.75 L570.18,203.34 L570.68,200.99 L571.18,198.71 L571.68,196.48 L572.17,194.33 L572.67,192.24 L573.17,190.22 L573.67,188.28 L574.17,186.42 L574.67,184.64 L575.17,182.94 L575.67,181.33 L576.17,179.81 L576.66,178.38 L577.16,177.04 L577.66,175.79 L578.16,174.65 L578.66,173.60 L579.16,172.65 L579.66,171.80 L580.16,171.06 L580.66,170.42 L581.15,169.89 L581.65,169.46 L582.15,169.14 L582.65,168.92 L583.15,168.81 L583.65,168.81 L584.15,168.92 L584.65,169.14 L585.15,169.46 L585.65,169.89 L586.14,170.42 L586.64,171.06 L587.14,171.80 L587.64,172.65 L588.14,173.60 L588.64,174.65 L589.14,175.79 L589.64,177.04 L590.14,178.38 L590.63,179.81 L591.13,181.33 L591.63,182.94 L592.13,184.64 L592.63,186.42 L593.13,188.28 L593.63,190.22 L594.13,192.24 L594.63,194.33 L595.12,196.48 L595.62,198.71 L596.12,200.99 L596.62,203.34 L597.12,205.75 L597.62,208.20 L598.12,210.71 L598.62,213.27 L599.12,215.87 L599.61,218.51 L600.11,221.18 L600.61,223.89 L601.11,226.64 L601.61,229.40 L602.11,232.19 L602.61,235.00 L603.11,237.83 L603.61,240.67 L604.11,243.53 L604.60,246.39 L605.10,249.25 L605.60,252.11 L606.10,254.98 L606.60,257.84 L607.10,260.69 L607.60,263.53 L608.10,266.35 L608.60,269.17 L609.09,271.96 L609.59,274.73 L610.09,277.49 L610.59,280.21 L611.09,282.91 L611.59,285.58 L612.09,288.22 L612.59,290.83 L613.09,293.40 L613.58,295.94 L614.08,298.44 L614.58,300.90 L615.08,303.32 L615.58,305.70 L616.08,308.03 L616.58,310.33 L617.08,312.58 L617.58,314.78 L618.08,316.94 L618.57,319.05 L619.07,321.12 L619.57,323.13 L620.07,325.10 L620.57,327.03 L621.07,328.90 L621.57,330.73 L622.07,332.51 L622.57,334.24 L623.06,335.92 L623.56,337.56 L624.06,339.14 L624.56,340.69 L625.06,342.18 L625.56,343.63 L626.06,345.03 L626.56,346.39 L627.06,347.70 L627.55,348.97 L628.05,350.20 L628.55,351.38 L629.05,352.52 L629.55,353.62 L630.05,354.69 L630.55,355.71 L631.05,356.69 L631.55,357.63 L632.04,358.54 L632.54,359.42 L633.04,360.25 L633.54,361.06 L634.04,361.83 L634.54,362.56 L635.04,363.27 L635.54,363.95 L636.04,364.59 L636.54,365.21 L637.03,365.80 L637.53,366.36 L638.03,366.90 L638.53,367.41 L639.03,367.90 L639.53,368.37 L640.03,368.81 L640.53,369.23 L641.03,369.63 L641.52,370.01 L642.02,370.37 L642.52,370.71 L643.02,371.04 L643.52,371.35 L644.02,371.64 L644.52,371.91 L645.02,372.17 L645.52,372.42 L646.01,372.65 L646.51,372.87 L647.01,373.08 L647.51,373.28 L648.01,373.46 L648.51,373.64 L649.01,373.80 L649.51,373.96 L650.01,374.10 L650.50,374.24 L651.00,374.37 L651.50,374.49 L652.00,374.60" fill="none" stroke="#231f20" stroke-width="1.2"/>
<path d="M545.80,374.60 L546.30,374.49 L546.80,374.37 L547.30,374.24 L547.79,374.10 L548.29,373.96 L548.79,373.80 L549.29,373.64 L549.79,373.46 L550.29,373.28 L550.79,373.08 L551.29,372.87 L551.79,372.65 L552.28,372.42 L552.78,372.17 L553.28,371.91 L553.78,371.64 L554.28,371.35 L554.78,371.04 L555.28,370.71 L555.78,370.37 L556.28,370.01 L556.77,369.63 L557.27,369.23 L557.77,368.81 L558.27,368.37 L558.77,367.90 L559.27,367.41 L559.77,366.90 L560.27,366.36 L560.77,365.80 L561.26,365.21 L561.76,364.59 L562.26,363.95 L562.76,363.27 L563.26,362.56 L563.76,361.83 L564.26,361.06 L564.76,360.25 L565.26,359.42 L565.76,358.54 L566.25,357.63 L566.75,356.69 L567.25,355.71 L567.75,354.69 L568.25,353.62 L568.75,352.52 L569.25,351.38 L569.75,350.20 L570.25,348.97 L570.74,347.70 L571.24,346.39 L571.74,345.03 L572.24,343.63 L572.74,342.18 L573.24,340.69 L573.74,339.14 L574.24,337.56 L574.74,335.92 L575.23,334.24 L575.73,332.51 L576.23,330.73 L576.73,328.90 L577.23,327.03 L577.73,325.10 L578.23,323.13 L578.73,321.12 L579.23,319.05 L579.72,316.94 L580.22,314.78 L580.72,312.58 L581.22,310.33 L581.72,308.03 L582.22,305.70 L582.72,303.32 L583.22,300.90 L583.72,298.44 L584.22,295.94 L584.71,293.40 L585.21,290.83 L585.71,288.22 L586.21,285.58 L586.71,282.91 L587.21,280.21 L587.71,277.49 L588.21,274.73 L588.71,271.96 L589.20,269.17 L589.70,266.35 L590.20,263.53 L590.70,260.69 L591.20,257.84 L591.70,254.98 L592.20,252.11 L592.70,249.25 L593.20,246.39 L593.69,243.53 L594.19,240.67 L594.69,237.83 L595.19,235.00 L595.69,232.19 L596.19,229.40 L596.69,226.64 L597.19,223.89 L597.69,221.18 L598.19,218.51 L598.68,215.87 L599.18,213.27 L599.68,210.71 L600.18,208.20 L600.68,205.75 L601.18,203.34 L601.68,200.99 L602.18,198.71 L602.68,196.48 L603.17,194.33 L603.67,192.24 L604.17,190.22 L604.67,188.28 L605.17,186.42 L605.67,184.64 L606.17,182.94 L606.67,181.33 L607.17,179.81 L607.66,178.38 L608.16,177.04 L608.66,175.79 L609.16,174.65 L609.66,173.60 L610.16,172.65 L610.66,171.80 L611.16,171.06 L611.66,170.42 L612.15,169.89 L612.65,169.46 L613.15,169.14 L613.65,168.92 L614.15,168.81 L614.65,168.81 L615.15,168.92 L615.65,169.14 L616.15,169.46 L616.65,169.89 L617.14,170.42 L617.64,171.06 L618.14,171.80 L618.64,172.65 L619.14,173.60 L619.64,174.65 L620.14,175.79 L620.64,177.04 L621.14,178.38 L621.63,179.81 L622.13,181.33 L622.63,182.94 L623.13,184.64 L623.63,186.42 L624.13,188.28 L624.63,190.22 L625.13,192.24 L625.63,194.33 L626.12,196.48 L626.62,198.71 L627.12,200.99 L627.62,203.34 L628.12,205.75 L628.62,208.20 L629.12,210.71 L629.62,213.27 L630.12,215.87 L630.61,218.51 L631.11,221.18 L631.61,223.89 L632.11,226.64 L632.61,229.40 L633.11,232.19 L633.61,235.00 L634.11,237.83 L634.61,240.67 L635.11,243.53 L635.60,246.39 L636.10,249.25 L636.60,252.11 L637.10,254.98 L637.60,257.84 L638.10,260.69 L638.60,263.53 L639.10,266.35 L639.60,269.17 L640.09,271.96 L640.59,274.73 L641.09,277.49 L641.59,280.21 L642.09,282.91 L642.59,285.58 L643.09,288.22 L643.59,290.83 L644.09,293.40 L644.58,295.94 L645.08,298.44 L645.58,300.90 L646.08,303.32 L646.58,305.70 L647.08,308.03 L647.58,310.33 L648.08,312.58 L648.58,314.78 L649.08,316.94 L649.57,319.05 L650.07,321.12 L650.57,323.13 L651.07,325.10 L651.57,327.03 L652.07,328.90 L652.57,330.73 L653.07,332.51 L653.57,334.24 L654.06,335.92 L654.56,337.56 L655.06,339.14 L655.56,340.69 L656.06,342.18 L656.56,343.63 L657.06,345.03 L657.56,346.39 L658.06,347.70 L658.55,348.97 L659.05,350.20 L659.55,351.38 L660.05,352.52 L660.55,353.62 L661.05,354.69 L661.55,355.71 L662.05,356.69 L662.55,357.63 L663.04,358.54 L663.54,359.42 L664.04,360.25 L664.54,361.06 L665.04,361.83 L665.54,362.56 L666.04,363.27 L666.54,363.95 L667.04,364.59 L667.54,365.21 L668.03,365.80 L668.53,366.36 L669.03,366.90 L669.53,367.41 L670.03,367.90 L670.53,368.37 L671.03,368.81 L671.53,369.23 L672.03,369.63 L672.52,370.01 L673.02,370.37 L673.52,370.71 L674.02,371.04 L674.52,371.35 L675.02,371.64 L675.52,371.91 L676.02,372.17 L676.52,372.42 L677.01,372.65 L677.51,372.87 L678.01,373.08 L678.51,373.28 L679.01,373.46 L679.51,373.64 L680.01,373.80 L680.51,373.96 L681.01,374.10 L681.50,374.24 L682.00,374.37 L682.50,374.49 L683.00,374.60" fill="none" stroke="#231f20" stroke-width="1.2"/>
<path d="M567.40,374.60 L567.90,374.49 L568.40,374.37 L568.90,374.24 L569.39,374.10 L569.89,373.96 L570.39,373.80 L570.89,373.64 L571.39,373.46 L571.89,373.28 L572.39,373.08 L572.89,372.87 L573.39,372.65 L573.88,372.42 L574.38,372.17 L574.88,371.91 L575.38,371.64 L575.88,371.35 L576.38,371.04 L576.88,370.71 L577.38,370.37 L577.88,370.01 L578.37,369.63 L578.87,369.23 L579.37,368.81 L579.87,368.37 L580.37,367.90 L580.87,367.41 L581.37,366.90 L581.87,366.36 L582.37,365.80 L582.86,365.21 L583.36,364.59 L583.86,363.95 L584.36,363.27 L584.86,362.56 L585.36,361.83 L585.86,361.06 L586.36,360.25 L586.86,359.42 L587.36,358.54 L587.85,357.63 L588.35,356.69 L588.85,355.71 L589.35,354.69 L589.85,353.62 L590.35,352.52 L590.85,351.38 L591.35,350.20 L591.85,348.97 L592.34,347.70 L592.84,346.39 L593.34,345.03 L593.84,343.63 L594.34,342.18 L594.84,340.69 L595.34,339.14 L595.84,337.56 L596.34,335.92 L596.83,334.24 L597.33,332.51 L597.83,330.73 L598.33,328.90 L598.83,327.03 L599.33,325.10 L599.83,323.13 L600.33,321.12 L600.83,319.05 L601.32,316.94 L601.82,314.78 L602.32,312.58 L602.82,310.33 L603.32,308.03 L603.82,305.70 L604.32,303.32 L604.82,300.90 L605.32,298.44 L605.82,295.94 L606.31,293.40 L606.81,290.83 L607.31,288.22 L607.81,285.58 L608.31,282.91 L608.81,280.21 L609.31,277.49 L609.81,274.73 L610.31,271.96 L610.80,269.17 L611.30,266.35 L611.80,263.53 L612.30,260.69 L612.80,257.84 L613.30,254.98 L613.80,252.11 L614.30,249.25 L614.80,246.39 L615.29,243.53 L615.79,240.67 L616.29,237.83 L616.79,235.00 L617.29,232.19 L617.79,229.40 L618.29,226.64 L618.79,223.89 L619.29,221.18 L619.79,218.51 L620.28,215.87 L620.78,213.27 L621.28,210.71 L621.78,208.20 L622.28,205.75 L622.78,203.34 L623.28,200.99 L623.78,198.71 L624.28,196.48 L624.77,194.33 L625.27,192.24 L625.77,190.22 L626.27,188.28 L626.77,186.42 L627.27,184.64 L627.77,182.94 L628.27,181.33 L628.77,179.81 L629.26,178.38 L629.76,177.04 L630.26,175.79 L630.76,174.65 L631.26,173.60 L631.76,172.65 L632.26,171.80 L632.76,171.06 L633.26,170.42 L633.75,169.89 L634.25,169.46 L634.75,169.14 L635.25,168.92 L635.75,168.81 L636.25,168.81 L636.75,168.92 L637.25,169.14 L637.75,169.46 L638.25,169.89 L638.74,170.42 L639.24,171.06 L639.74,171.80 L640.24,172.65 L640.74,173.60 L641.24,174.65 L641.74,175.79 L642.24,177.04 L642.74,178.38 L643.23,179.81 L643.73,181.33 L644.23,182.94 L644.73,184.64 L645.23,186.42 L645.73,188.28 L646.23,190.22 L646.73,192.24 L647.23,194.33 L647.72,196.48 L648.22,198.71 L648.72,200.99 L649.22,203.34 L649.72,205.75 L650.22,208.20 L650.72,210.71 L651.22,213.27 L651.72,215.87 L652.21,218.51 L652.71,221.18 L653.21,223.89 L653.71,226.64 L654.21,229.40 L654.71,232.19 L655.21,235.00 L655.71,237.83 L656.21,240.67 L656.71,243.53 L657.20,246.39 L657.70,249.25 L658.20,252.11 L658.70,254.98 L659.20,257.84 L659.70,260.69 L660.20,263.53 L660.70,266.35 L661.20,269.17 L661.69,271.96 L662.19,274.73 L662.69,277.49 L663.19,280.21 L663.69,282.91 L664.19,285.58 L664.69,288.22 L665.19,290.83 L665.69,293.40 L666.18,295.94 L666.68,298.44 L667.18,300.90 L667.68,303.32 L668.18,305.70 L668.68,308.03 L669.18,310.33 L669.68,312.58 L670.18,314.78 L670.68,316.94 L671.17,319.05 L671.67,321.12 L672.17,323.13 L672.67,325.10 L673.17,327.03 L673.67,328.90 L674.17,330.73 L674.67,332.51 L675.17,334.24 L675.66,335.92 L676.16,337.56 L676.66,339.14 L677.16,340.69 L677.66,342.18 L678.16,343.63 L678.66,345.03 L679.16,346.39 L679.66,347.70 L680.15,348.97 L680.65,350.20 L681.15,351.38 L681.65,352.52 L682.15,353.62 L682.65,354.69 L683.15,355.71 L683.65,356.69 L684.15,357.63 L684.64,358.54 L685.14,359.42 L685.64,360.25 L686.14,361.06 L686.64,361.83 L687.14,362.56 L687.64,363.27 L688.14,363.95 L688.64,364.59 L689.14,365.21 L689.63,365.80 L690.13,366.36 L690.63,366.90 L691.13,367.41 L691.63,367.90 L692.13,368.37 L692.63,368.81 L693.13,369.23 L693.63,369.63 L694.12,370.01 L694.62,370.37 L695.12,370.71 L695.62,371.04 L696.12,371.35 L696.62,371.64 L697.12,371.91 L697.62,372.17 L698.12,372.42 L698.61,372.65 L699.11,372.87 L699.61,373.08 L700.11,373.28 L700.61,373.46 L701.11,373.64 L701.61,373.80 L702.11,373.96 L702.61,374.10 L703.10,374.24 L703.60,374.37 L704.10,374.49 L704.60,374.60" fill="none" stroke="#231f20" stroke-width="1.2"/>
<path d="M582.30,374.60 L582.80,374.49 L583.30,374.37 L583.80,374.24 L584.29,374.10 L584.79,373.96 L585.29,373.80 L585.79,373.64 L586.29,373.46 L586.79,373.28 L587.29,373.08 L587.79,372.87 L588.29,372.65 L588.78,372.42 L589.28,372.17 L589.78,371.91 L590.28,371.64 L590.78,371.35 L591.28,371.04 L591.78,370.71 L592.28,370.37 L592.78,370.01 L593.27,369.63 L593.77,369.23 L594.27,368.81 L594.77,368.37 L595.27,367.90 L595.77,367.41 L596.27,366.90 L596.77,366.36 L597.27,365.80 L597.76,365.21 L598.26,364.59 L598.76,363.95 L599.26,363.27 L599.76,362.56 L600.26,361.83 L600.76,361.06 L601.26,360.25 L601.76,359.42 L602.26,358.54 L602.75,357.63 L603.25,356.69 L603.75,355.71 L604.25,354.69 L604.75,353.62 L605.25,352.52 L605.75,351.38 L606.25,350.20 L606.75,348.97 L607.24,347.70 L607.74,346.39 L608.24,345.03 L608.74,343.63 L609.24,342.18 L609.74,340.69 L610.24,339.14 L610.74,337.56 L611.24,335.92 L611.73,334.24 L612.23,332.51 L612.73,330.73 L613.23,328.90 L613.73,327.03 L614.23,325.10 L614.73,323.13 L615.23,321.12 L615.73,319.05 L616.22,316.94 L616.72,314.78 L617.22,312.58 L617.72,310.33 L618.22,308.03 L618.72,305.70 L619.22,303.32 L619.72,300.90 L620.22,298.44 L620.72,295.94 L621.21,293.40 L621.71,290.83 L622.21,288.22 L622.71,285.58 L623.21,282.91 L623.71,280.21 L624.21,277.49 L624.71,274.73 L625.21,271.96 L625.70,269.17 L626.20,266.35 L626.70,263.53 L627.20,260.69 L627.70,257.84 L628.20,254.98 L628.70,252.11 L629.20,249.25 L629.70,246.39 L630.19,243.53 L630.69,240.67 L631.19,237.83 L631.69,235.00 L632.19,232.19 L632.69,229.40 L633.19,226.64 L633.69,223.89 L634.19,221.18 L634.69,218.51 L635.18,215.87 L635.68,213.27 L636.18,210.71 L636.68,208.20 L637.18,205.75 L637.68,203.34 L638.18,200.99 L638.68,198.71 L639.18,196.48 L639.67,194.33 L640.17,192.24 L640.67,190.22 L641.17,188.28 L641.67,186.42 L642.17,184.64 L642.67,182.94 L643.17,181.33 L643.67,179.81 L644.16,178.38 L644.66,177.04 L645.16,175.79 L645.66,174.65 L646.16,173.60 L646.66,172.65 L647.16,171.80 L647.66,171.06 L648.16,170.42 L648.65,169.89 L649.15,169.46 L649.65,169.14 L650.15,168.92 L650.65,168.81 L651.15,168.81 L651.65,168.92 L652.15,169.14 L652.65,169.46 L653.15,169.89 L653.64,170.42 L654.14,171.06 L654.64,171.80 L655.14,172.65 L655.64,173.60 L656.14,174.65 L656.64,175.79 L657.14,177.04 L657.64,178.38 L658.13,179.81 L658.63,181.33 L659.13,182.94 L659.63,184.64 L660.13,186.42 L660.63,188.28 L661.13,190.22 L661.63,192.24 L662.13,194.33 L662.62,196.48 L663.12,198.71 L663.62,200.99 L664.12,203.34 L664.62,205.75 L665.12,208.20 L665.62,210.71 L666.12,213.27 L666.62,215.87 L667.11,218.51 L667.61,221.18 L668.11,223.89 L668.61,226.64 L669.11,229.40 L669.61,232.19 L670.11,235.00 L670.61,237.83 L671.11,240.67 L671.61,243.53 L672.10,246.39 L672.60,249.25 L673.10,252.11 L673.60,254.98 L674.10,257.84 L674.60,260.69 L675.10,263.53 L675.60,266.35 L676.10,269.17 L676.59,271.96 L677.09,274.73 L677.59,277.49 L678.09,280.21 L678.59,282.91 L679.09,285.58 L679.59,288.22 L680.09,290.83 L680.59,293.40 L681.08,295.94 L681.58,298.44 L682.08,300.90 L682.58,303.32 L683.08,305.70 L683.58,308.03 L684.08,310.33 L684.58,312.58 L685.08,314.78 L685.58,316.94 L686.07,319.05 L686.57,321.12 L687.07,323.13 L687.57,325.10 L688.07,327.03 L688.57,328.90 L689.07,330.73 L689.57,332.51 L690.07,334.24 L690.56,335.92 L691.06,337.56 L691.56,339.14 L692.06,340.69 L692.56,342.18 L693.06,343.63 L693.56,345.03 L694.06,346.39 L694.56,347.70 L695.05,348.97 L695.55,350.20 L696.05,351.38 L696.55,352.52 L697.05,353.62 L697.55,354.69 L698.05,355.71 L698.55,356.69 L699.05,357.63 L699.54,358.54 L700.04,359.42 L700.54,360.25 L701.04,361.06 L701.54,361.83 L702.04,362.56 L702.54,363.27 L703.04,363.95 L703.54,364.59 L704.04,365.21 L704.53,365.80 L705.03,366.36 L705.53,366.90 L706.03,367.41 L706.53,367.90 L707.03,368.37 L707.53,368.81 L708.03,369.23 L708.53,369.63 L709.02,370.01 L709.52,370.37 L710.02,370.71 L710.52,371.04 L711.02,371.35 L711.52,371.64 L712.02,371.91 L712.52,372.17 L713.02,372.42 L713.51,372.65 L714.01,372.87 L714.51,373.08 L715.01,373.28 L715.51,373.46 L716.01,373.64 L716.51,373.80 L717.01,373.96 L717.51,374.10 L718.00,374.24 L718.50,374.37 L719.00,374.49 L719.50,374.60" fill="none" stroke="#231f20" stroke-width="1.2"/>
<path d="M597.40,374.60 L597.90,374.49 L598.40,374.37 L598.90,374.24 L599.39,374.10 L599.89,373.96 L600.39,373.80 L600.89,373.64 L601.39,373.46 L601.89,373.28 L602.39,373.08 L602.89,372.87 L603.39,372.65 L603.88,372.42 L604.38,372.17 L604.88,371.91 L605.38,371.64 L605.88,371.35 L606.38,371.04 L606.88,370.71 L607.38,370.37 L607.88,370.01 L608.37,369.63 L608.87,369.23 L609.37,368.81 L609.87,368.37 L610.37,367.90 L610.87,367.41 L611.37,366.90 L611.87,366.36 L612.37,365.80 L612.86,365.21 L613.36,364.59 L613.86,363.95 L614.36,363.27 L614.86,362.56 L615.36,361.83 L615.86,361.06 L616.36,360.25 L616.86,359.42 L617.36,358.54 L617.85,357.63 L618.35,356.69 L618.85,355.71 L619.35,354.69 L619.85,353.62 L620.35,352.52 L620.85,351.38 L621.35,350.20 L621.85,348.97 L622.34,347.70 L622.84,346.39 L623.34,345.03 L623.84,343.63 L624.34,342.18 L624.84,340.69 L625.34,339.14 L625.84,337.56 L626.34,335.92 L626.83,334.24 L627.33,332.51 L627.83,330.73 L628.33,328.90 L628.83,327.03 L629.33,325.10 L629.83,323.13 L630.33,321.12 L630.83,319.05 L631.32,316.94 L631.82,314.78 L632.32,312.58 L632.82,310.33 L633.32,308.03 L633.82,305.70 L634.32,303.32 L634.82,300.90 L635.32,298.44 L635.82,295.94 L636.31,293.40 L636.81,290.83 L637.31,288.22 L637.81,285.58 L638.31,282.91 L638.81,280.21 L639.31,277.49 L639.81,274.73 L640.31,271.96 L640.80,269.17 L641.30,266.35 L641.80,263.53 L642.30,260.69 L642.80,257.84 L643.30,254.98 L643.80,252.11 L644.30,249.25 L644.80,246.39 L645.29,243.53 L645.79,240.67 L646.29,237.83 L646.79,235.00 L647.29,232.19 L647.79,229.40 L648.29,226.64 L648.79,223.89 L649.29,221.18 L649.79,218.51 L650.28,215.87 L650.78,213.27 L651.28,210.71 L651.78,208.20 L652.28,205.75 L652.78,203.34 L653.28,200.99 L653.78,198.71 L654.28,196.48 L654.77,194.33 L655.27,192.24 L655.77,190.22 L656.27,188.28 L656.77,186.42 L657.27,184.64 L657.77,182.94 L658.27,181.33 L658.77,179.81 L659.26,178.38 L659.76,177.04 L660.26,175.79 L660.76,174.65 L661.26,173.60 L661.76,172.65 L662.26,171.80 L662.76,171.06 L663.26,170.42 L663.75,169.89 L664.25,169.46 L664.75,169.14 L665.25,168.92 L665.75,168.81 L666.25,168.81 L666.75,168.92 L667.25,169.14 L667.75,169.46 L668.25,169.89 L668.74,170.42 L669.24,171.06 L669.74,171.80 L670.24,172.65 L670.74,173.60 L671.24,174.65 L671.74,175.79 L672.24,177.04 L672.74,178.38 L673.23,179.81 L673.73,181.33 L674.23,182.94 L674.73,184.64 L675.23,186.42 L675.73,188.28 L676.23,190.22 L676.73,192.24 L677.23,194.33 L677.72,196.48 L678.22,198.71 L678.72,200.99 L679.22,203.34 L679.72,205.75 L680.22,208.20 L680.72,210.71 L681.22,213.27 L681.72,215.87 L682.21,218.51 L682.71,221.18 L683.21,223.89 L683.71,226.64 L684.21,229.40 L684.71,232.19 L685.21,235.00 L685.71,237.83 L686.21,240.67 L686.71,243.53 L687.20,246.39 L687.70,249.25 L688.20,252.11 L688.70,254.98 L689.20,257.84 L689.70,260.69 L690.20,263.53 L690.70,266.35 L691.20,269.17 L691.69,271.96 L692.19,274.73 L692.69,277.49 L693.19,280.21 L693.69,282.91 L694.19,285.58 L694.69,288.22 L695.19,290.83 L695.69,293.40 L696.18,295.94 L696.68,298.44 L697.18,300.90 L697.68,303.32 L698.18,305.70 L698.68,308.03 L699.18,310.33 L699.68,312.58 L700.18,314.78 L700.68,316.94 L701.17,319.05 L701.67,321.12 L702.17,323.13 L702.67,325.10 L703.17,327.03 L703.67,328.90 L704.17,330.73 L704.67,332.51 L705.17,334.24 L705.66,335.92 L706.16,337.56 L706.66,339.14 L707.16,340.69 L707.66,342.18 L708.16,343.63 L708.66,345.03 L709.16,346.39 L709.66,347.70 L710.15,348.97 L710.65,350.20 L711.15,351.38 L711.65,352.52 L712.15,353.62 L712.65,354.69 L713.15,355.71 L713.65,356.69 L714.15,357.63 L714.64,358.54 L715.14,359.42 L715.64,360.25 L716.14,361.06 L716.64,361.83 L717.14,362.56 L717.64,363.27 L718.14,363.95 L718.64,364.59 L719.14,365.21 L719.63,365.80 L720.13,366.36 L720.63,366.90 L721.13,367.41 L721.63,367.90 L722.13,368.37 L722.63,368.81 L723.13,369.23 L723.63,369.63 L724.12,370.01 L724.62,370.37 L725.12,370.71 L725.62,371.04 L726.12,371.35 L726.62,371.64 L727.12,371.91 L727.62,372.17 L728.12,372.42 L728.61,372.65 L729.11,372.87 L729.61,373.08 L730.11,373.28 L730.61,373.46 L731.11,373.64 L731.61,373.80 L732.11,373.96 L732.61,374.10 L733.10,374.24 L733.60,374.37 L734.10,374.49 L734.60,374.60" fill="none" stroke="#231f20" stroke-width="1.2"/>
<path d="M613.20,374.60 L613.70,374.49 L614.20,374.37 L614.70,374.24 L615.19,374.10 L615.69,373.96 L616.19,373.80 L616.69,373.64 L617.19,373.46 L617.69,373.28 L618.19,373.08 L618.69,372.87 L619.19,372.65 L619.68,372.42 L620.18,372.17 L620.68,371.91 L621.18,371.64 L621.68,371.35 L622.18,371.04 L622.68,370.71 L623.18,370.37 L623.68,370.01 L624.17,369.63 L624.67,369.23 L625.17,368.81 L625.67,368.37 L626.17,367.90 L626.67,367.41 L627.17,366.90 L627.67,366.36 L628.17,365.80 L628.66,365.21 L629.16,364.59 L629.66,363.95 L630.16,363.27 L630.66,362.56 L631.16,361.83 L631.66,361.06 L632.16,360.25 L632.66,359.42 L633.16,358.54 L633.65,357.63 L634.15,356.69 L634.65,355.71 L635.15,354.69 L635.65,353.62 L636.15,352.52 L636.65,351.38 L637.15,350.20 L637.65,348.97 L638.14,347.70 L638.64,346.39 L639.14,345.03 L639.64,343.63 L640.14,342.18 L640.64,340.69 L641.14,339.14 L641.64,337.56 L642.14,335.92 L642.63,334.24 L643.13,332.51 L643.63,330.73 L644.13,328.90 L644.63,327.03 L645.13,325.10 L645.63,323.13 L646.13,321.12 L646.63,319.05 L647.12,316.94 L647.62,314.78 L648.12,312.58 L648.62,310.33 L649.12,308.03 L649.62,305.70 L650.12,303.32 L650.62,300.90 L651.12,298.44 L651.62,295.94 L652.11,293.40 L652.61,290.83 L653.11,288.22 L653.61,285.58 L654.11,282.91 L654.61,280.21 L655.11,277.49 L655.61,274.73 L656.11,271.96 L656.60,269.17 L657.10,266.35 L657.60,263.53 L658.10,260.69 L658.60,257.84 L659.10,254.98 L659.60,252.11 L660.10,249.25 L660.60,246.39 L661.09,243.53 L661.59,240.67 L662.09,237.83 L662.59,235.00 L663.09,232.19 L663.59,229.40 L664.09,226.64 L664.59,223.89 L665.09,221.18 L665.59,218.51 L666.08,215.87 L666.58,213.27 L667.08,210.71 L667.58,208.20 L668.08,205.75 L668.58,203.34 L669.08,200.99 L669.58,198.71 L670.08,196.48 L670.57,194.33 L671.07,192.24 L671.57,190.22 L672.07,188.28 L672.57,186.42 L673.07,184.64 L673.57,182.94 L674.07,181.33 L674.57,179.81 L675.06,178.38 L675.56,177.04 L676.06,175.79 L676.56,174.65 L677.06,173.60 L677.56,172.65 L678.06,171.80 L678.56,171.06 L679.06,170.42 L679.55,169.89 L680.05,169.46 L680.55,169.14 L681.05,168.92 L681.55,168.81 L682.05,168.81 L682.55,168.92 L683.05,169.14 L683.55,169.46 L684.05,169.89 L684.54,170.42 L685.04,171.06 L685.54,171.80 L686.04,172.65 L686.54,173.60 L687.04,174.65 L687.54,175.79 L688.04,177.04 L688.54,178.38 L689.03,179.81 L689.53,181.33 L690.03,182.94 L690.53,184.64 L691.03,186.42 L691.53,188.28 L692.03,190.22 L692.53,192.24 L693.03,194.33 L693.52,196.48 L694.02,198.71 L694.52,200.99 L695.02,203.34 L695.52,205.75 L696.02,208.20 L696.52,210.71 L697.02,213.27 L697.52,215.87 L698.01,218.51 L698.51,221.18 L699.01,223.89 L699.51,226.64 L700.01,229.40 L700.51,232.19 L701.01,235.00 L701.51,237.83 L702.01,240.67 L702.51,243.53 L703.00,246.39 L703.50,249.25 L704.00,252.11 L704.50,254.98 L705.00,257.84 L705.50,260.69 L706.00,263.53 L706.50,266.35 L707.00,269.17 L707.49,271.96 L707.99,274.73 L708.49,277.49 L708.99,280.21 L709.49,282.91 L709.99,285.58 L710.49,288.22 L710.99,290.83 L711.49,293.40 L711.98,295.94 L712.48,298.44 L712.98,300.90 L713.48,303.32 L713.98,305.70 L714.48,308.03 L714.98,310.33 L715.48,312.58 L715.98,314.78 L716.48,316.94 L716.97,319.05 L717.47,321.12 L717.97,323.13 L718.47,325.10 L718.97,327.03 L719.47,328.90 L719.97,330.73 L720.47,332.51 L720.97,334.24 L721.46,335.92 L721.96,337.56 L722.46,339.14 L722.96,340.69 L723.46,342.18 L723.96,343.63 L724.46,345.03 L724.96,346.39 L725.46,347.70 L725.95,348.97 L726.45,350.20 L726.95,351.38 L727.45,352.52 L727.95,353.62 L728.45,354.69 L728.95,355.71 L729.45,356.69 L729.95,357.63 L730.44,358.54 L730.94,359.42 L731.44,360.25 L731.94,361.06 L732.44,361.83 L732.94,362.56 L733.44,363.27 L733.94,363.95 L734.44,364.59 L734.94,365.21 L735.43,365.80 L735.93,366.36 L736.43,366.90 L736.93,367.41 L737.43,367.90 L737.93,368.37 L738.43,368.81 L738.93,369.23 L739.43,369.63 L739.92,370.01 L740.42,370.37 L740.92,370.71 L741.42,371.04 L741.92,371.35 L742.42,371.64 L742.92,371.91 L743.42,372.17 L743.92,372.42 L744.41,372.65 L744.91,372.87 L745.41,373.08 L745.91,373.28 L746.41,373.46 L746.91,373.64 L747.41,373.80 L747.91,373.96 L748.41,374.10 L748.90,374.24 L749.40,374.37 L749.90,374.49 L750.40,374.60" fill="none" stroke="#231f20" stroke-width="1.2"/>
<path d="M635.10,374.60 L635.60,374.49 L636.10,374.37 L636.60,374.24 L637.09,374.10 L637.59,373.96 L638.09,373.80 L638.59,373.64 L639.09,373.46 L639.59,373.28 L640.09,373.08 L640.59,372.87 L641.09,372.65 L641.58,372.42 L642.08,372.17 L642.58,371.91 L643.08,371.64 L643.58,371.35 L644.08,371.04 L644.58,370.71 L645.08,370.37 L645.58,370.01 L646.07,369.63 L646.57,369.23 L647.07,368.81 L647.57,368.37 L648.07,367.90 L648.57,367.41 L649.07,366.90 L649.57,366.36 L650.07,365.80 L650.56,365.21 L651.06,364.59 L651.56,363.95 L652.06,363.27 L652.56,362.56 L653.06,361.83 L653.56,361.06 L654.06,360.25 L654.56,359.42 L655.06,358.54 L655.55,357.63 L656.05,356.69 L656.55,355.71 L657.05,354.69 L657.55,353.62 L658.05,352.52 L658.55,351.38 L659.05,350.20 L659.55,348.97 L660.04,347.70 L660.54,346.39 L661.04,345.03 L661.54,343.63 L662.04,342.18 L662.54,340.69 L663.04,339.14 L663.54,337.56 L664.04,335.92 L664.53,334.24 L665.03,332.51 L665.53,330.73 L666.03,328.90 L666.53,327.03 L667.03,325.10 L667.53,323.13 L668.03,321.12 L668.53,319.05 L669.02,316.94 L669.52,314.78 L670.02,312.58 L670.52,310.33 L671.02,308.03 L671.52,305.70 L672.02,303.32 L672.52,300.90 L673.02,298.44 L673.52,295.94 L674.01,293.40 L674.51,290.83 L675.01,288.22 L675.51,285.58 L676.01,282.91 L676.51,280.21 L677.01,277.49 L677.51,274.73 L678.01,271.96 L678.50,269.17 L679.00,266.35 L679.50,263.53 L680.00,260.69 L680.50,257.84 L681.00,254.98 L681.50,252.11 L682.00,249.25 L682.50,246.39 L682.99,243.53 L683.49,240.67 L683.99,237.83 L684.49,235.00 L684.99,232.19 L685.49,229.40 L685.99,226.64 L686.49,223.89 L686.99,221.18 L687.49,218.51 L687.98,215.87 L688.48,213.27 L688.98,210.71 L689.48,208.20 L689.98,205.75 L690.48,203.34 L690.98,200.99 L691.48,198.71 L691.98,196.48 L692.47,194.33 L692.97,192.24 L693.47,190.22 L693.97,188.28 L694.47,186.42 L694.97,184.64 L695.47,182.94 L695.97,181.33 L696.47,179.81 L696.96,178.38 L697.46,177.04 L697.96,175.79 L698.46,174.65 L698.96,173.60 L699.46,172.65 L699.96,171.80 L700.46,171.06 L700.96,170.42 L701.45,169.89 L701.95,169.46 L702.45,169.14 L702.95,168.92 L703.45,168.81 L703.95,168.81 L704.45,168.92 L704.95,169.14 L705.45,169.46 L705.95,169.89 L706.44,170.42 L706.94,171.06 L707.44,171.80 L707.94,172.65 L708.44,173.60 L708.94,174.65 L709.44,175.79 L709.94,177.04 L710.44,178.38 L710.93,179.81 L711.43,181.33 L711.93,182.94 L712.43,184.64 L712.93,186.42 L713.43,188.28 L713.93,190.22 L714.43,192.24 L714.93,194.33 L715.42,196.48 L715.92,198.71 L716.42,200.99 L716.92,203.34 L717.42,205.75 L717.92,208.20 L718.42,210.71 L718.92,213.27 L719.42,215.87 L719.91,218.51 L720.41,221.18 L720.91,223.89 L721.41,226.64 L721.91,229.40 L722.41,232.19 L722.91,235.00 L723.41,237.83 L723.91,240.67 L724.41,243.53 L724.90,246.39 L725.40,249.25 L725.90,252.11 L726.40,254.98 L726.90,257.84 L727.40,260.69 L727.90,263.53 L728.40,266.35 L728.90,269.17 L729.39,271.96 L729.89,274.73 L730.39,277.49 L730.89,280.21 L731.39,282.91 L731.89,285.58 L732.39,288.22 L732.89,290.83 L733.39,293.40 L733.88,295.94 L734.38,298.44 L734.88,300.90 L735.38,303.32 L735.88,305.70 L736.38,308.03 L736.88,310.33 L737.38,312.58 L737.88,314.78 L738.38,316.94 L738.87,319.05 L739.37,321.12 L739.87,323.13 L740.37,325.10 L740.87,327.03 L741.37,328.90 L741.87,330.73 L742.37,332.51 L742.87,334.24 L743.36,335.92 L743.86,337.56 L744.36,339.14 L744.86,340.69 L745.36,342.18 L745.86,343.63 L746.36,345.03 L746.86,346.39 L747.36,347.70 L747.85,348.97 L748.35,350.20 L748.85,351.38 L749.35,352.52 L749.85,353.62 L750.35,354.69 L750.85,355.71 L751.35,356.69 L751.85,357.63 L752.34,358.54 L752.84,359.42 L753.34,360.25 L753.84,361.06 L754.34,361.83 L754.84,362.56 L755.34,363.27 L755.84,363.95 L756.34,364.59 L756.84,365.21 L757.33,365.80 L757.83,366.36 L758.33,366.90 L758.83,367.41 L759.33,367.90 L759.83,368.37 L760.33,368.81 L760.83,369.23 L761.33,369.63 L761.82,370.01 L762.32,370.37 L762.82,370.71 L763.32,371.04 L763.82,371.35 L764.32,371.64 L764.82,371.91 L765.32,372.17 L765.82,372.42 L766.31,372.65 L766.81,372.87 L767.31,373.08 L767.81,373.28 L768.31,373.46 L768.81,373.64 L769.31,373.80 L769.81,373.96 L770.31,374.10 L770.80,374.24 L771.30,374.37 L771.80,374.49 L772.30,374.60" fill="none" stroke="#231f20" stroke-width="1.2"/>
<path d="M54.3,148.8 L54.3,377.5 L322.7,377.5" fill="none" stroke="#222" stroke-width="1.2"/><path d="M49.699999999999996,157.3 L54.3,148.8 L58.9,157.3" fill="none" stroke="#222" stroke-width="1.2" stroke-linejoin="miter"/><path d="M314.2,372.9 L322.7,377.5 L314.2,382.1" fill="none" stroke="#222" stroke-width="1.2" stroke-linejoin="miter"/>
<path d="M397.6,146.2 L397.6,374.6 L796.5,374.6" fill="none" stroke="#222" stroke-width="1.2"/><path d="M392.90000000000003,154.6 L397.6,146.2 L402.3,154.6" fill="none" stroke="#222" stroke-width="1.2" stroke-linejoin="miter"/><path d="M788.1,369.90000000000003 L796.5,374.6 L788.1,379.3" fill="none" stroke="#222" stroke-width="1.2" stroke-linejoin="miter"/>
<path d="M466.8,137.8 L466.8,118.8 L597.3,118.8 L597.3,137.8 M531.9,118.8 L531.9,99.7" fill="none" stroke="#a31d36" stroke-width="1.4"/>
<path d="M467.2,375 L467.2,145.4 L728.1,145.4 L728.1,375" fill="none" stroke="#a8121c" stroke-width="3.6" stroke-linejoin="round"/><path d="M597.6,145.4 L597.6,375" fill="none" stroke="#a8121c" stroke-width="3.2"/>
<text x="0" y="0" transform="translate(95.8 19.9) scale(0.82 1)" font-size="23" font-weight="bold" textLength="184.88" lengthAdjust="spacing" fill="#231f20" stroke="#231f20" stroke-width="1.3">Dwell for each</text><text x="0" y="0" transform="translate(61.5 50.3) scale(0.82 1)" font-size="23" font-weight="bold" textLength="267.07" lengthAdjust="spacing" fill="#231f20" stroke="#231f20" stroke-width="1.3">resolution bandwidth</text><text x="0" y="0" transform="translate(46 89.5) scale(0.8 1)" font-size="19.4" font-weight="bold" textLength="315.00" lengthAdjust="spacing" fill="#231f20" stroke="#231f20" stroke-width="0.85">Receiver resolution bandwidth</text><text x="0" y="0" transform="translate(423.5 19.9) scale(0.82 1)" font-size="23" font-weight="bold" textLength="376.22" lengthAdjust="spacing" fill="#231f20" stroke="#231f20" stroke-width="1.3">Dwell for each FFT bandwidth</text><text x="0" y="0" transform="translate(418 50.3) scale(0.82 1)" font-size="23" font-weight="bold" textLength="397.93" lengthAdjust="spacing" fill="#231f20" stroke="#231f20" stroke-width="1.3">(multiple resolution bandwidth)</text><text x="0" y="0" transform="translate(472.8 89.6) scale(0.8 1)" font-size="19.4" font-weight="bold" textLength="271.88" lengthAdjust="spacing" fill="#231f20" stroke="#231f20" stroke-width="0.85">FFT acquisition bandwidth</text><text x="0" y="0" transform="translate(40.800000000000004 288.8) rotate(-90) scale(0.78 1)" font-size="22" font-weight="normal" textLength="117.95" lengthAdjust="spacing" fill="#231f20" stroke="#231f20" stroke-width="0.35">Amplitude</text><text x="0" y="0" transform="translate(385.8 288.8) rotate(-90) scale(0.78 1)" font-size="22" font-weight="normal" textLength="117.95" lengthAdjust="spacing" fill="#231f20" stroke="#231f20" stroke-width="0.35">Amplitude</text><text x="0" y="0" transform="translate(228.5 402.8) scale(0.78 1)" font-size="22.5" font-weight="normal" textLength="117.44" lengthAdjust="spacing" fill="#231f20" stroke="#231f20" stroke-width="0.3">Frequency</text><text x="0" y="0" transform="translate(702 400) scale(0.78 1)" font-size="22.5" font-weight="normal" textLength="119.74" lengthAdjust="spacing" fill="#231f20" stroke="#231f20" stroke-width="0.3">Frequency</text><text x="0" y="0" transform="translate(1.8 439.6) scale(0.8 1)" font-size="19.4" font-weight="bold" textLength="425.00" lengthAdjust="spacing" fill="#231f20" stroke="#231f20" stroke-width="0.85">Swept or stepped frequency domain scan</text><text x="0" y="0" transform="translate(507.0 439.6) scale(0.8 1)" font-size="19.4" font-weight="bold" textLength="187.50" lengthAdjust="spacing" fill="#231f20" stroke="#231f20" stroke-width="0.85">Time domain scan</text>
</svg>
</body></html>
